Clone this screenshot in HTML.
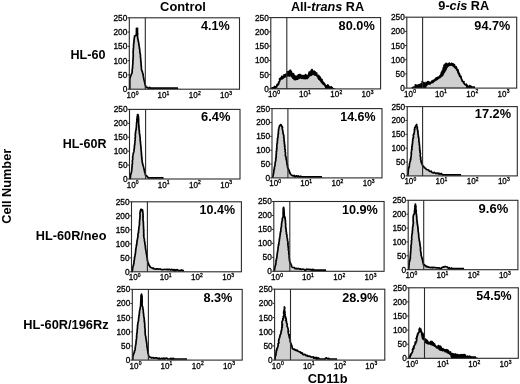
<!DOCTYPE html>
<html><head><meta charset="utf-8"><style>
html,body{margin:0;padding:0;background:#fff;}
body{width:520px;height:384px;overflow:hidden;position:relative;}
svg{position:absolute;left:0;top:0;display:block;will-change:transform;}
text{font-family:"Liberation Sans", sans-serif;fill:#000;}
.lab{font-weight:bold;}
.yt,.xt{fill:#000;stroke:#000;stroke-width:0.3px;}
</style></head><body>
<svg width="520" height="384" viewBox="0 0 520 384">
<path d="M129.8 89.2 L129.8 79 L130.09 78.01 L130.17 77.39 L130.4 76.61 L130.51 76.31 L130.88 75.77 L131.07 74.65 L131.59 73.89 L131.83 73.14 L132.08 72.8 L132.14 71.68 L132.25 71.13 L132.12 70.37 L132.25 69.42 L132.37 68.87 L132.45 68.48 L132.54 67.44 L132.68 67.07 L132.65 66.32 L132.58 65.11 L132.7 64.86 L132.89 63.99 L132.8 63.12 L133.01 62.14 L132.81 61.37 L132.94 61.11 L133 60.11 L133.02 59.24 L133.18 58.6 L133 57.84 L133.21 57.11 L133.26 56.38 L133.15 55.48 L133.32 55.18 L133.17 54.02 L133.15 53.43 L133.23 53.01 L133.17 51.87 L133.02 51.51 L133.34 50.35 L133.26 49.82 L133.46 48.83 L133.24 48.59 L133.44 47.64 L133.56 46.99 L133.59 46.07 L133.46 45.2 L133.59 44.86 L133.66 43.95 L133.78 43.45 L133.83 42.49 L133.99 42.05 L134.1 41.37 L133.92 40.5 L134.11 39.6 L134.25 38.72 L134.26 38.49 L134.37 37.71 L134.57 36.62 L134.55 36.06 L135.51 35.65 L136.17 35.3 L136.44 34.91 L136.24 34.24 L136.41 33.21 L136.54 32.36 L136.33 31.76 L136.55 31.15 L136.51 30.63 L136.51 29.83 L136.42 29.1 L136.5 28.29 L137.5 28.29 L137.44 28.94 L137.51 29.54 L137.37 30.36 L137.48 30.81 L137.5 31.73 L137.41 32.58 L137.61 33.07 L137.66 34.17 L137.61 34.53 L137.51 35.07 L137.53 36.3 L137.54 36.97 L137.81 37.62 L137.7 38.26 L137.81 39.01 L138.12 39.77 L138.17 40.61 L138.21 40.91 L138.53 41.59 L138.53 42.55 L138.79 43.26 L138.83 44.08 L138.93 44.8 L139.06 45.62 L139.18 46.25 L139.43 47.34 L139.32 48.07 L139.36 48.45 L139.72 49.1 L139.75 50.35 L139.83 50.78 L139.76 51.52 L139.99 52.47 L140.07 53.23 L140.17 53.88 L140.34 54.33 L140.47 55.24 L140.39 56.28 L140.48 56.72 L140.43 57.25 L140.65 58.14 L140.68 58.96 L140.74 59.45 L140.86 60.23 L140.71 61.19 L140.98 61.46 L141.04 62.51 L140.91 63.15 L141.16 63.61 L141.14 64.37 L141.05 65.51 L141.36 66.04 L141.36 66.59 L141.3 67.44 L141.48 68.2 L141.43 68.87 L141.47 69.69 L141.82 70.35 L141.88 70.8 L142.29 71.48 L142.41 72 L142.46 72.76 L142.84 73.45 L143.05 74.04 L143.18 75.12 L143.18 75.54 L143.31 76.4 L143.41 76.94 L143.73 78.06 L143.66 78.51 L143.94 79.47 L144.04 79.92 L144.23 80.77 L144.34 81.37 L144.49 81.73 L144.68 82.52 L144.76 83.31 L145.01 84.11 L145.23 84.63 L145.36 85.52 L145.73 86.04 L145.65 87.01 L146.72 87.3 L147.44 87.35 L148.07 88.1 L148.94 88.1 L149.75 87.49 L150.43 88.1 L151.31 88.1 L151.89 88.1 L152.83 88.1 L153.38 88.1 L154.38 88.1 L155.14 88.1 L155.71 88.1 L156.45 88.1 L157.14 88.1 L157.91 88.1 L158.54 88.1 L159.35 88.1 L160.14 88.1 L160.82 88.1 L161.43 88.1 L162.23 88.1 L162.99 88.1 L163.51 88.1 L164.36 88.1 L164.88 88.1 L165.62 88.1 L166.37 88.1 L167.24 88.1 L167.93 88.1 L168.57 88.1 L169.38 88.1 L170.13 88.1 L170.68 88.1 L171.63 88.1 L172.18 88.1 L172.83 88.1 L173.65 88.1 L174.38 88.1 L175 88.1 L175.88 88.1 L176.71 88.1 L177.24 88.1 L178 88.1 L182 89.2 Z" fill="#d0d0d0" stroke="none"/>
<path d="M129.8 89.2 L129.8 79 L130.09 78.01 L130.17 77.39 L130.4 76.61 L130.51 76.31 L130.88 75.77 L131.07 74.65 L131.59 73.89 L131.83 73.14 L132.08 72.8 L132.14 71.68 L132.25 71.13 L132.12 70.37 L132.25 69.42 L132.37 68.87 L132.45 68.48 L132.54 67.44 L132.68 67.07 L132.65 66.32 L132.58 65.11 L132.7 64.86 L132.89 63.99 L132.8 63.12 L133.01 62.14 L132.81 61.37 L132.94 61.11 L133 60.11 L133.02 59.24 L133.18 58.6 L133 57.84 L133.21 57.11 L133.26 56.38 L133.15 55.48 L133.32 55.18 L133.17 54.02 L133.15 53.43 L133.23 53.01 L133.17 51.87 L133.02 51.51 L133.34 50.35 L133.26 49.82 L133.46 48.83 L133.24 48.59 L133.44 47.64 L133.56 46.99 L133.59 46.07 L133.46 45.2 L133.59 44.86 L133.66 43.95 L133.78 43.45 L133.83 42.49 L133.99 42.05 L134.1 41.37 L133.92 40.5 L134.11 39.6 L134.25 38.72 L134.26 38.49 L134.37 37.71 L134.57 36.62 L134.55 36.06 L135.51 35.65 L136.17 35.3 L136.44 34.91 L136.24 34.24 L136.41 33.21 L136.54 32.36 L136.33 31.76 L136.55 31.15 L136.51 30.63 L136.51 29.83 L136.42 29.1 L136.5 28.29 L137.5 28.29 L137.44 28.94 L137.51 29.54 L137.37 30.36 L137.48 30.81 L137.5 31.73 L137.41 32.58 L137.61 33.07 L137.66 34.17 L137.61 34.53 L137.51 35.07 L137.53 36.3 L137.54 36.97 L137.81 37.62 L137.7 38.26 L137.81 39.01 L138.12 39.77 L138.17 40.61 L138.21 40.91 L138.53 41.59 L138.53 42.55 L138.79 43.26 L138.83 44.08 L138.93 44.8 L139.06 45.62 L139.18 46.25 L139.43 47.34 L139.32 48.07 L139.36 48.45 L139.72 49.1 L139.75 50.35 L139.83 50.78 L139.76 51.52 L139.99 52.47 L140.07 53.23 L140.17 53.88 L140.34 54.33 L140.47 55.24 L140.39 56.28 L140.48 56.72 L140.43 57.25 L140.65 58.14 L140.68 58.96 L140.74 59.45 L140.86 60.23 L140.71 61.19 L140.98 61.46 L141.04 62.51 L140.91 63.15 L141.16 63.61 L141.14 64.37 L141.05 65.51 L141.36 66.04 L141.36 66.59 L141.3 67.44 L141.48 68.2 L141.43 68.87 L141.47 69.69 L141.82 70.35 L141.88 70.8 L142.29 71.48 L142.41 72 L142.46 72.76 L142.84 73.45 L143.05 74.04 L143.18 75.12 L143.18 75.54 L143.31 76.4 L143.41 76.94 L143.73 78.06 L143.66 78.51 L143.94 79.47 L144.04 79.92 L144.23 80.77 L144.34 81.37 L144.49 81.73 L144.68 82.52 L144.76 83.31 L145.01 84.11 L145.23 84.63 L145.36 85.52 L145.73 86.04 L145.65 87.01 L146.72 87.3 L147.44 87.35 L148.07 88.1 L148.94 88.1 L149.75 87.49 L150.43 88.1 L151.31 88.1 L151.89 88.1 L152.83 88.1 L153.38 88.1 L154.38 88.1 L155.14 88.1 L155.71 88.1 L156.45 88.1 L157.14 88.1 L157.91 88.1 L158.54 88.1 L159.35 88.1 L160.14 88.1 L160.82 88.1 L161.43 88.1 L162.23 88.1 L162.99 88.1 L163.51 88.1 L164.36 88.1 L164.88 88.1 L165.62 88.1 L166.37 88.1 L167.24 88.1 L167.93 88.1 L168.57 88.1 L169.38 88.1 L170.13 88.1 L170.68 88.1 L171.63 88.1 L172.18 88.1 L172.83 88.1 L173.65 88.1 L174.38 88.1 L175 88.1 L175.88 88.1 L176.71 88.1 L177.24 88.1 L178 88.1" fill="none" stroke="#000" stroke-width="1.7" stroke-linejoin="round"/>
<rect x="129.3" y="17.8" width="110.2" height="71.4" fill="none" stroke="#2a2a2a" stroke-width="1.1"/>
<line x1="145.3" y1="17.8" x2="145.3" y2="89.2" stroke="#2a2a2a" stroke-width="1.1"/>
<line x1="127.5" y1="89.2" x2="129.3" y2="89.2" stroke="#2a2a2a" stroke-width="1"/>
<text class="yt" font-size="8.3" transform="translate(123.03 92.15) scale(1.0000 1)" x="-0.32" y="0">0</text>
<line x1="127.5" y1="74.92" x2="129.3" y2="74.92" stroke="#2a2a2a" stroke-width="1"/>
<text class="yt" font-size="8.3" transform="translate(118.43 77.87) scale(1.0000 1)" x="-0.33" y="0">50</text>
<line x1="127.5" y1="60.64" x2="129.3" y2="60.64" stroke="#2a2a2a" stroke-width="1"/>
<text class="yt" font-size="8.3" transform="translate(114.11 63.59) scale(1.0000 1)" x="-0.63" y="0">100</text>
<line x1="127.5" y1="46.36" x2="129.3" y2="46.36" stroke="#2a2a2a" stroke-width="1"/>
<text class="yt" font-size="8.3" transform="translate(114.11 49.31) scale(1.0000 1)" x="-0.63" y="0">150</text>
<line x1="127.5" y1="32.08" x2="129.3" y2="32.08" stroke="#2a2a2a" stroke-width="1"/>
<text class="yt" font-size="8.3" transform="translate(113.89 35.03) scale(1.0000 1)" x="-0.42" y="0">200</text>
<line x1="127.5" y1="17.8" x2="129.3" y2="17.8" stroke="#2a2a2a" stroke-width="1"/>
<text class="yt" font-size="8.3" transform="translate(113.89 20.75) scale(1.0000 1)" x="-0.42" y="0">250</text>
<text class="xt" font-size="8.4" transform="translate(127.1 97.7) scale(0.9600 1)" x="-0.64" y="0">10</text>
<text class="xt" font-size="5" transform="translate(135.84 94.5) scale(1.0000 1)" x="-0.2" y="0">0</text>
<text class="xt" font-size="8.4" transform="translate(158.2 97.7) scale(0.9600 1)" x="-0.64" y="0">10</text>
<text class="xt" font-size="5" transform="translate(166.94 94.5) scale(1.0000 1)" x="-0.38" y="0">1</text>
<text class="xt" font-size="8.4" transform="translate(189.4 97.7) scale(0.9600 1)" x="-0.64" y="0">10</text>
<text class="xt" font-size="5" transform="translate(198.14 94.5) scale(1.0000 1)" x="-0.25" y="0">2</text>
<text class="xt" font-size="8.4" transform="translate(220.6 97.7) scale(0.9600 1)" x="-0.64" y="0">10</text>
<text class="xt" font-size="5" transform="translate(229.34 94.5) scale(1.0000 1)" x="-0.19" y="0">3</text>
<text class="lab" font-size="12.5" transform="translate(201.1 30.4) scale(1.0116 1)" x="-0.19" y="0">4.1%</text>
<path d="M271.4 88.9 L272 87.8 L272.55 87.8 L273.76 87.8 L274.55 86.44 L275.86 87.16 L276.53 86.84 L276.68 85.75 L277 84.73 L277.52 84.2 L278.13 84.75 L278.78 83.78 L278.63 82.16 L278.77 82.64 L279.84 80.91 L279.74 79.88 L279.66 78.57 L279.56 79.77 L280.78 78.8 L280.4 78.58 L282.08 76.56 L281.72 76.4 L282.16 76.26 L282.92 76.94 L283.88 76.58 L284.01 74.85 L285.37 75.3 L286.05 74.1 L285.56 74.47 L287.28 73.98 L287.59 71.89 L288.97 71.48 L289.7 70.78 L290.12 71.21 L290.5 70.39 L290.65 70.83 L290.06 70.41 L291.2 72.63 L291.36 71.67 L291.56 73.19 L291.35 74.89 L291.97 74.09 L292.7 73.62 L292.92 73.54 L293.59 73.97 L294.27 75.76 L294.53 76.78 L295.5 76.09 L295.7 77.25 L297 76.11 L297.78 76.95 L298.34 74.95 L299.42 74.94 L299.96 74.46 L301.55 76.17 L301.92 75.47 L303.01 76.22 L303.97 75.53 L305.12 75.35 L305.69 75.39 L305.63 74.51 L306.54 76 L307.86 75.71 L308.23 74.82 L308.63 75.39 L308.79 73.97 L309.21 72.15 L309.57 72.01 L310.67 72.2 L311.62 71.42 L311.02 70.89 L312.04 70.88 L311.47 70 L312 69.49 L312.7 72.27 L312.27 71.4 L313.21 72.28 L313.39 72.18 L314.08 71.04 L315.52 72.4 L316.18 74.38 L316.69 73.09 L316.64 74.67 L317.86 75.8 L318.16 75.35 L318.58 75.36 L319.04 76.88 L319.36 76.4 L319.99 77.2 L320.54 78.3 L320.13 79.76 L320.63 79.1 L321.99 79.49 L322.14 81.17 L322.78 81.49 L322.55 83.44 L322.79 82.16 L324.32 83.51 L324.51 84.04 L325.01 84.48 L325.24 85.23 L326.87 86.66 L327.76 84.79 L327.89 85.06 L328.51 85.75 L329.28 86.97 L329.61 87.8 L330.25 87.8 L331.09 86.64 L331.83 87.8 L333 87.8 L336 88.9 Z" fill="#000" stroke="none"/>
<path d="M275.5 88.6 L276 88.33 L276.93 87.22 L277.36 86.48 L277.61 86.03 L277.72 85.47 L278.01 84.73 L278.33 83.77 L278.77 83.68 L278.95 82.52 L279.45 82.42 L279.73 81.3 L280.19 80.34 L280.89 80.14 L281.36 79.62 L282.17 79.79 L282.87 79.22 L283.68 78.66 L284.27 78.03 L284.7 77.75 L285.57 77.54 L286.26 77.27 L287.15 76.64 L288.12 76.56 L288.65 76.56 L289.51 76.9 L290.34 76.53 L291.19 76.49 L291.47 77.61 L291.86 77.99 L292.32 78.73 L293.11 79.26 L293.65 79.65 L294.08 80.48 L294.78 80.24 L295.64 80.51 L296.24 80.16 L296.82 80.06 L297.81 80.02 L298.63 79.18 L299.2 79.21 L299.81 78.77 L300.67 78.56 L301.42 79.15 L302.25 78.81 L303.16 79.38 L303.83 79.11 L304.82 79.46 L305.73 79.44 L306.31 79.08 L307.14 79.46 L308.18 78.87 L308.37 78.25 L308.89 77.76 L309.54 76.9 L309.8 76.34 L310.7 76.15 L311.68 75.95 L312.26 75.59 L313.07 74.84 L313.91 75.62 L314.65 75.84 L315.21 75.72 L315.84 76.11 L316.22 76.28 L316.68 76.99 L317.14 77.53 L317.4 78.24 L317.84 79.04 L318.31 80.01 L319.05 79.99 L319.4 80.72 L319.95 81.1 L320.64 82.39 L320.99 82.59 L321.33 82.88 L321.94 83.61 L322.63 84.03 L322.81 85.16 L323.51 85.02 L324.02 85.42 L324.51 86.78 L325 87 L325 88.6 Z" fill="#d0d0d0" stroke="none"/>
<path d="M271.4 88.9 L272 87.8 L272.55 87.8 L273.76 87.8 L274.55 86.44 L275.86 87.16 L276.53 86.84 L276.68 85.75 L277 84.73 L277.52 84.2 L278.13 84.75 L278.78 83.78 L278.63 82.16 L278.77 82.64 L279.84 80.91 L279.74 79.88 L279.66 78.57 L279.56 79.77 L280.78 78.8 L280.4 78.58 L282.08 76.56 L281.72 76.4 L282.16 76.26 L282.92 76.94 L283.88 76.58 L284.01 74.85 L285.37 75.3 L286.05 74.1 L285.56 74.47 L287.28 73.98 L287.59 71.89 L288.97 71.48 L289.7 70.78 L290.12 71.21 L290.5 70.39 L290.65 70.83 L290.06 70.41 L291.2 72.63 L291.36 71.67 L291.56 73.19 L291.35 74.89 L291.97 74.09 L292.7 73.62 L292.92 73.54 L293.59 73.97 L294.27 75.76 L294.53 76.78 L295.5 76.09 L295.7 77.25 L297 76.11 L297.78 76.95 L298.34 74.95 L299.42 74.94 L299.96 74.46 L301.55 76.17 L301.92 75.47 L303.01 76.22 L303.97 75.53 L305.12 75.35 L305.69 75.39 L305.63 74.51 L306.54 76 L307.86 75.71 L308.23 74.82 L308.63 75.39 L308.79 73.97 L309.21 72.15 L309.57 72.01 L310.67 72.2 L311.62 71.42 L311.02 70.89 L312.04 70.88 L311.47 70 L312 69.49 L312.7 72.27 L312.27 71.4 L313.21 72.28 L313.39 72.18 L314.08 71.04 L315.52 72.4 L316.18 74.38 L316.69 73.09 L316.64 74.67 L317.86 75.8 L318.16 75.35 L318.58 75.36 L319.04 76.88 L319.36 76.4 L319.99 77.2 L320.54 78.3 L320.13 79.76 L320.63 79.1 L321.99 79.49 L322.14 81.17 L322.78 81.49 L322.55 83.44 L322.79 82.16 L324.32 83.51 L324.51 84.04 L325.01 84.48 L325.24 85.23 L326.87 86.66 L327.76 84.79 L327.89 85.06 L328.51 85.75 L329.28 86.97 L329.61 87.8 L330.25 87.8 L331.09 86.64 L331.83 87.8 L333 87.8" fill="none" stroke="#000" stroke-width="1.7" stroke-linejoin="round"/>
<rect x="270.8" y="17.6" width="109.8" height="71.3" fill="none" stroke="#2a2a2a" stroke-width="1.1"/>
<line x1="286.8" y1="17.6" x2="286.8" y2="88.9" stroke="#2a2a2a" stroke-width="1.1"/>
<line x1="269" y1="88.9" x2="270.8" y2="88.9" stroke="#2a2a2a" stroke-width="1"/>
<text class="yt" font-size="8.3" transform="translate(264.53 91.85) scale(1.0000 1)" x="-0.32" y="0">0</text>
<line x1="269" y1="74.64" x2="270.8" y2="74.64" stroke="#2a2a2a" stroke-width="1"/>
<text class="yt" font-size="8.3" transform="translate(259.93 77.59) scale(1.0000 1)" x="-0.33" y="0">50</text>
<line x1="269" y1="60.38" x2="270.8" y2="60.38" stroke="#2a2a2a" stroke-width="1"/>
<text class="yt" font-size="8.3" transform="translate(255.61 63.33) scale(1.0000 1)" x="-0.63" y="0">100</text>
<line x1="269" y1="46.12" x2="270.8" y2="46.12" stroke="#2a2a2a" stroke-width="1"/>
<text class="yt" font-size="8.3" transform="translate(255.61 49.07) scale(1.0000 1)" x="-0.63" y="0">150</text>
<line x1="269" y1="31.86" x2="270.8" y2="31.86" stroke="#2a2a2a" stroke-width="1"/>
<text class="yt" font-size="8.3" transform="translate(255.39 34.81) scale(1.0000 1)" x="-0.42" y="0">200</text>
<line x1="269" y1="17.6" x2="270.8" y2="17.6" stroke="#2a2a2a" stroke-width="1"/>
<text class="yt" font-size="8.3" transform="translate(255.39 20.55) scale(1.0000 1)" x="-0.42" y="0">250</text>
<text class="xt" font-size="8.4" transform="translate(268.6 97.4) scale(0.9600 1)" x="-0.64" y="0">10</text>
<text class="xt" font-size="5" transform="translate(277.34 94.2) scale(1.0000 1)" x="-0.2" y="0">0</text>
<text class="xt" font-size="8.4" transform="translate(299.7 97.4) scale(0.9600 1)" x="-0.64" y="0">10</text>
<text class="xt" font-size="5" transform="translate(308.44 94.2) scale(1.0000 1)" x="-0.38" y="0">1</text>
<text class="xt" font-size="8.4" transform="translate(330.9 97.4) scale(0.9600 1)" x="-0.64" y="0">10</text>
<text class="xt" font-size="5" transform="translate(339.64 94.2) scale(1.0000 1)" x="-0.25" y="0">2</text>
<text class="xt" font-size="8.4" transform="translate(362.1 97.4) scale(0.9600 1)" x="-0.64" y="0">10</text>
<text class="xt" font-size="5" transform="translate(370.84 94.2) scale(1.0000 1)" x="-0.19" y="0">3</text>
<text class="lab" font-size="12.5" transform="translate(339 30.2) scale(1.0198 1)" x="-0.4" y="0">80.0%</text>
<path d="M411.7 88.1 L414 87 L414.84 87 L415.48 87 L415.36 84.93 L416.28 85.64 L416.86 85.36 L417.31 85.37 L418.5 85.11 L418.77 84.83 L419.51 84.75 L420.95 84.07 L421.65 84.23 L422.32 82.49 L422.12 81.53 L422.64 82.36 L423.13 82.53 L423.87 82.48 L424.7 84.26 L426.1 83.14 L426.05 82.34 L426.96 83.76 L427.85 81.62 L429.22 81.96 L430.05 83.94 L430.24 82.77 L431.37 82.19 L431.82 81.12 L433.05 81.72 L433.21 80.35 L434.08 80.54 L435.13 79.43 L435.27 79.23 L436.48 77.8 L437.11 79.14 L436.91 78.17 L438.15 77.04 L438.72 77.07 L439.83 76.78 L439.86 75.8 L440.2 75.93 L441.35 73.54 L441 74.64 L441.55 72.15 L442.21 73.21 L442.14 71.67 L442.45 71.59 L442.49 70.27 L443.14 70.38 L443.31 67.79 L443.98 67.53 L443.85 67.06 L444.36 66.44 L444 65.21 L444.21 66.28 L445.46 63.91 L445.88 64.26 L446.22 63.37 L446.82 64.12 L448.34 63.85 L449.27 63.1 L449.36 64.22 L450.06 64.84 L451.45 63.35 L452.34 63.71 L453.08 64.08 L453.54 64.1 L454.49 64.92 L454.23 66.31 L455.21 66.49 L455.97 66.98 L456.09 66.72 L456.76 68.36 L456.4 68.39 L456.75 68.91 L457.42 70.03 L458.05 69.79 L457.83 71.79 L458.25 71.06 L458.37 73.57 L459.39 73.45 L459.02 74.79 L459.75 74.65 L459.64 76.42 L459.94 75.8 L460.94 76.5 L461.23 77.6 L461.12 78.58 L461.19 78.31 L462.15 80.11 L462.02 80.81 L462.4 81.08 L463.55 82.15 L463.98 81.57 L463.7 82.71 L464.3 83.6 L464.95 84.61 L465.99 84.41 L466.31 84.16 L467.32 85.67 L467.85 87 L468.73 87 L469.76 85.56 L470.84 87 L471.11 86.31 L471.51 87 L472.43 87 L473.88 87 L474.15 87 L475 87 L475 88.1 Z" fill="#000" stroke="none"/>
<path d="M426 87.8 L427 85.8 L427.68 85.2 L428.56 84.81 L429.26 84.72 L429.82 84.51 L430.56 84.07 L431.33 83.42 L432.22 83.64 L432.85 82.78 L433.65 82.96 L434.23 82.12 L434.99 81.44 L435.54 81.23 L435.86 80.69 L436.59 80.84 L437.21 80.23 L438.06 79.65 L438.69 78.98 L439.16 78.68 L440.07 78.44 L440.53 78.07 L441.18 77.34 L441.92 77.16 L442.3 76.56 L443.01 76.3 L443.49 75.13 L443.99 74.29 L444.17 74.11 L444.46 73.19 L444.82 72.63 L445.44 71.93 L445.82 71.08 L446.08 70.68 L446.37 69.93 L446.8 69.69 L446.99 68.83 L447.16 68.23 L447.73 67.83 L448.13 66.63 L448.7 66.68 L449.31 66.25 L450.12 65.72 L450.82 65.98 L451.52 65.81 L452.29 66.55 L452.83 66.46 L453.52 67.31 L454.13 67.79 L454.41 67.93 L454.94 68.81 L455.61 68.84 L455.73 69.51 L456.18 70.33 L456.75 70.77 L456.94 71.51 L457.52 72.24 L458.18 72.95 L458.34 73.59 L458.74 73.84 L459.16 75.12 L459.48 75.84 L459.62 76.22 L459.84 77.11 L460.16 77.35 L460.55 78.13 L460.94 78.74 L461.13 79.45 L461.51 80.24 L461.81 81.27 L462.38 81.32 L462.57 82.1 L462.95 82.55 L463.64 83.94 L463.99 84.22 L464.33 84.61 L465.19 85.37 L466 86.2 L466 87.8 Z" fill="#d0d0d0" stroke="none"/>
<path d="M411.7 88.1 L414 87 L414.84 87 L415.48 87 L415.36 84.93 L416.28 85.64 L416.86 85.36 L417.31 85.37 L418.5 85.11 L418.77 84.83 L419.51 84.75 L420.95 84.07 L421.65 84.23 L422.32 82.49 L422.12 81.53 L422.64 82.36 L423.13 82.53 L423.87 82.48 L424.7 84.26 L426.1 83.14 L426.05 82.34 L426.96 83.76 L427.85 81.62 L429.22 81.96 L430.05 83.94 L430.24 82.77 L431.37 82.19 L431.82 81.12 L433.05 81.72 L433.21 80.35 L434.08 80.54 L435.13 79.43 L435.27 79.23 L436.48 77.8 L437.11 79.14 L436.91 78.17 L438.15 77.04 L438.72 77.07 L439.83 76.78 L439.86 75.8 L440.2 75.93 L441.35 73.54 L441 74.64 L441.55 72.15 L442.21 73.21 L442.14 71.67 L442.45 71.59 L442.49 70.27 L443.14 70.38 L443.31 67.79 L443.98 67.53 L443.85 67.06 L444.36 66.44 L444 65.21 L444.21 66.28 L445.46 63.91 L445.88 64.26 L446.22 63.37 L446.82 64.12 L448.34 63.85 L449.27 63.1 L449.36 64.22 L450.06 64.84 L451.45 63.35 L452.34 63.71 L453.08 64.08 L453.54 64.1 L454.49 64.92 L454.23 66.31 L455.21 66.49 L455.97 66.98 L456.09 66.72 L456.76 68.36 L456.4 68.39 L456.75 68.91 L457.42 70.03 L458.05 69.79 L457.83 71.79 L458.25 71.06 L458.37 73.57 L459.39 73.45 L459.02 74.79 L459.75 74.65 L459.64 76.42 L459.94 75.8 L460.94 76.5 L461.23 77.6 L461.12 78.58 L461.19 78.31 L462.15 80.11 L462.02 80.81 L462.4 81.08 L463.55 82.15 L463.98 81.57 L463.7 82.71 L464.3 83.6 L464.95 84.61 L465.99 84.41 L466.31 84.16 L467.32 85.67 L467.85 87 L468.73 87 L469.76 85.56 L470.84 87 L471.11 86.31 L471.51 87 L472.43 87 L473.88 87 L474.15 87 L475 87" fill="none" stroke="#000" stroke-width="1.7" stroke-linejoin="round"/>
<rect x="406.8" y="17.2" width="109.9" height="70.9" fill="none" stroke="#2a2a2a" stroke-width="1.1"/>
<line x1="422.6" y1="17.2" x2="422.6" y2="88.1" stroke="#2a2a2a" stroke-width="1.1"/>
<line x1="405" y1="88.1" x2="406.8" y2="88.1" stroke="#2a2a2a" stroke-width="1"/>
<text class="yt" font-size="8.3" transform="translate(400.53 91.05) scale(1.0000 1)" x="-0.32" y="0">0</text>
<line x1="405" y1="73.92" x2="406.8" y2="73.92" stroke="#2a2a2a" stroke-width="1"/>
<text class="yt" font-size="8.3" transform="translate(395.93 76.87) scale(1.0000 1)" x="-0.33" y="0">50</text>
<line x1="405" y1="59.74" x2="406.8" y2="59.74" stroke="#2a2a2a" stroke-width="1"/>
<text class="yt" font-size="8.3" transform="translate(391.61 62.69) scale(1.0000 1)" x="-0.63" y="0">100</text>
<line x1="405" y1="45.56" x2="406.8" y2="45.56" stroke="#2a2a2a" stroke-width="1"/>
<text class="yt" font-size="8.3" transform="translate(391.61 48.51) scale(1.0000 1)" x="-0.63" y="0">150</text>
<line x1="405" y1="31.38" x2="406.8" y2="31.38" stroke="#2a2a2a" stroke-width="1"/>
<text class="yt" font-size="8.3" transform="translate(391.39 34.33) scale(1.0000 1)" x="-0.42" y="0">200</text>
<line x1="405" y1="17.2" x2="406.8" y2="17.2" stroke="#2a2a2a" stroke-width="1"/>
<text class="yt" font-size="8.3" transform="translate(391.39 20.15) scale(1.0000 1)" x="-0.42" y="0">250</text>
<text class="xt" font-size="8.4" transform="translate(404.6 96.6) scale(0.9600 1)" x="-0.64" y="0">10</text>
<text class="xt" font-size="5" transform="translate(413.34 93.4) scale(1.0000 1)" x="-0.2" y="0">0</text>
<text class="xt" font-size="8.4" transform="translate(435.7 96.6) scale(0.9600 1)" x="-0.64" y="0">10</text>
<text class="xt" font-size="5" transform="translate(444.44 93.4) scale(1.0000 1)" x="-0.38" y="0">1</text>
<text class="xt" font-size="8.4" transform="translate(466.9 96.6) scale(0.9600 1)" x="-0.64" y="0">10</text>
<text class="xt" font-size="5" transform="translate(475.64 93.4) scale(1.0000 1)" x="-0.25" y="0">2</text>
<text class="xt" font-size="8.4" transform="translate(498.1 96.6) scale(0.9600 1)" x="-0.64" y="0">10</text>
<text class="xt" font-size="5" transform="translate(506.84 93.4) scale(1.0000 1)" x="-0.19" y="0">3</text>
<text class="lab" font-size="12.5" transform="translate(474.8 29.7) scale(1.0123 1)" x="-0.44" y="0">94.7%</text>
<path d="M130.1 179.1 L130.2 177.9 L130.39 177.9 L130.35 176.8 L130.48 175.85 L130.58 175.15 L130.75 174.41 L131.08 173.73 L131.15 173.08 L131.47 171.91 L131.49 171.7 L131.71 170.68 L131.74 170.27 L131.73 169.43 L132.01 168.34 L131.91 167.7 L132.03 167.01 L132.19 166.62 L132.07 165.87 L132.05 164.67 L132.29 164.36 L132.39 163.75 L132.45 162.59 L132.47 162.25 L132.33 161.3 L132.4 160.39 L132.54 160 L132.74 158.98 L132.65 158.8 L132.78 157.82 L132.67 157.18 L132.73 156.49 L132.89 155.63 L132.99 154.94 L133.11 154.4 L133.27 153.21 L133.58 152.56 L133.89 151.65 L133.96 150.73 L134.06 150.15 L134.13 149.69 L134.08 149.09 L134.36 148.25 L134.38 147.38 L134.41 146.54 L134.43 145.75 L134.52 145.04 L134.78 144.58 L134.78 143.38 L134.74 142.96 L134.94 142.15 L134.99 141.71 L134.96 140.66 L135.18 139.89 L135.21 139.24 L135.04 138.58 L135.09 138.07 L135.36 137.22 L135.42 136.33 L135.32 135.61 L135.24 135.29 L135.29 134.66 L135.48 133.82 L135.36 133.24 L135.71 131.96 L135.64 131.18 L135.86 130.35 L136.07 129.8 L136.16 128.85 L136.22 128.26 L136.29 127.52 L136.46 127.06 L136.49 126.05 L136.36 125.22 L136.42 124.99 L136.53 124.22 L136.58 123.32 L136.65 122.38 L136.86 121.82 L136.98 120.84 L136.84 119.99 L136.89 119.79 L137.06 118.74 L137.05 118.16 L137.28 116.97 L137.21 116.15 L137.57 115.66 L137.52 114.54 L138.14 115.01 L138.33 115.56 L138.27 116.38 L138.51 117.39 L138.57 118.03 L138.54 119.04 L138.66 119.63 L138.48 120.62 L138.72 121.15 L138.56 121.61 L138.63 122.83 L138.63 123.25 L138.72 123.84 L138.64 124.73 L138.95 125.65 L138.81 126.31 L139.03 126.91 L138.94 127.39 L139.1 128.4 L139.01 128.78 L139.06 130 L139.38 130.61 L139.37 131.52 L139.32 132.21 L139.48 133.22 L139.48 133.91 L139.55 134.47 L139.86 134.85 L139.82 135.5 L139.9 136.49 L140.12 137.19 L140.18 138.04 L140.24 138.51 L140.1 139.38 L140.18 140.08 L140.26 140.8 L140.5 141.74 L140.39 142 L140.52 143.22 L140.53 143.65 L140.62 144.14 L140.73 145.02 L140.77 146.01 L140.89 146.45 L140.94 147.36 L141.04 147.77 L140.95 148.9 L141.1 149.54 L141.15 150.34 L141.27 151.2 L141.35 151.98 L141.36 152.27 L141.36 153.42 L141.55 154.01 L141.42 154.46 L141.65 155.35 L141.57 156.42 L141.65 157.12 L141.84 157.87 L141.95 158.15 L141.85 159.28 L141.98 159.8 L142.14 160.6 L142.2 161.28 L142.13 162.13 L142.31 162.93 L142.73 163.39 L142.71 164.65 L142.99 165.22 L143.24 165.78 L143.38 166.46 L143.72 167.59 L143.86 167.93 L143.88 168.62 L144.19 169.86 L144.38 170.49 L144.43 171 L144.5 171.52 L144.88 172.88 L145.2 173.35 L145.29 174.43 L145.43 175.14 L146.08 175.46 L146.57 175.8 L147.04 176.38 L147.85 177.19 L148.32 177.9 L149.13 177.9 L150.13 177.9 L150.83 177.9 L151.47 177.9 L152.07 177.9 L152.89 177.9 L153.47 177.9 L154.31 177.9 L154.89 177.9 L155.71 177.9 L156.47 177.9 L157.19 177.9 L157.78 177.9 L158.59 177.9 L159.39 177.9 L160.02 177.9 L160.63 177.9 L161.4 177.9 L162.05 177.9 L162.91 177.9 L163.5 177.9 L168 179.1 Z" fill="#d0d0d0" stroke="none"/>
<path d="M130.1 179.1 L130.2 177.9 L130.39 177.9 L130.35 176.8 L130.48 175.85 L130.58 175.15 L130.75 174.41 L131.08 173.73 L131.15 173.08 L131.47 171.91 L131.49 171.7 L131.71 170.68 L131.74 170.27 L131.73 169.43 L132.01 168.34 L131.91 167.7 L132.03 167.01 L132.19 166.62 L132.07 165.87 L132.05 164.67 L132.29 164.36 L132.39 163.75 L132.45 162.59 L132.47 162.25 L132.33 161.3 L132.4 160.39 L132.54 160 L132.74 158.98 L132.65 158.8 L132.78 157.82 L132.67 157.18 L132.73 156.49 L132.89 155.63 L132.99 154.94 L133.11 154.4 L133.27 153.21 L133.58 152.56 L133.89 151.65 L133.96 150.73 L134.06 150.15 L134.13 149.69 L134.08 149.09 L134.36 148.25 L134.38 147.38 L134.41 146.54 L134.43 145.75 L134.52 145.04 L134.78 144.58 L134.78 143.38 L134.74 142.96 L134.94 142.15 L134.99 141.71 L134.96 140.66 L135.18 139.89 L135.21 139.24 L135.04 138.58 L135.09 138.07 L135.36 137.22 L135.42 136.33 L135.32 135.61 L135.24 135.29 L135.29 134.66 L135.48 133.82 L135.36 133.24 L135.71 131.96 L135.64 131.18 L135.86 130.35 L136.07 129.8 L136.16 128.85 L136.22 128.26 L136.29 127.52 L136.46 127.06 L136.49 126.05 L136.36 125.22 L136.42 124.99 L136.53 124.22 L136.58 123.32 L136.65 122.38 L136.86 121.82 L136.98 120.84 L136.84 119.99 L136.89 119.79 L137.06 118.74 L137.05 118.16 L137.28 116.97 L137.21 116.15 L137.57 115.66 L137.52 114.54 L138.14 115.01 L138.33 115.56 L138.27 116.38 L138.51 117.39 L138.57 118.03 L138.54 119.04 L138.66 119.63 L138.48 120.62 L138.72 121.15 L138.56 121.61 L138.63 122.83 L138.63 123.25 L138.72 123.84 L138.64 124.73 L138.95 125.65 L138.81 126.31 L139.03 126.91 L138.94 127.39 L139.1 128.4 L139.01 128.78 L139.06 130 L139.38 130.61 L139.37 131.52 L139.32 132.21 L139.48 133.22 L139.48 133.91 L139.55 134.47 L139.86 134.85 L139.82 135.5 L139.9 136.49 L140.12 137.19 L140.18 138.04 L140.24 138.51 L140.1 139.38 L140.18 140.08 L140.26 140.8 L140.5 141.74 L140.39 142 L140.52 143.22 L140.53 143.65 L140.62 144.14 L140.73 145.02 L140.77 146.01 L140.89 146.45 L140.94 147.36 L141.04 147.77 L140.95 148.9 L141.1 149.54 L141.15 150.34 L141.27 151.2 L141.35 151.98 L141.36 152.27 L141.36 153.42 L141.55 154.01 L141.42 154.46 L141.65 155.35 L141.57 156.42 L141.65 157.12 L141.84 157.87 L141.95 158.15 L141.85 159.28 L141.98 159.8 L142.14 160.6 L142.2 161.28 L142.13 162.13 L142.31 162.93 L142.73 163.39 L142.71 164.65 L142.99 165.22 L143.24 165.78 L143.38 166.46 L143.72 167.59 L143.86 167.93 L143.88 168.62 L144.19 169.86 L144.38 170.49 L144.43 171 L144.5 171.52 L144.88 172.88 L145.2 173.35 L145.29 174.43 L145.43 175.14 L146.08 175.46 L146.57 175.8 L147.04 176.38 L147.85 177.19 L148.32 177.9 L149.13 177.9 L150.13 177.9 L150.83 177.9 L151.47 177.9 L152.07 177.9 L152.89 177.9 L153.47 177.9 L154.31 177.9 L154.89 177.9 L155.71 177.9 L156.47 177.9 L157.19 177.9 L157.78 177.9 L158.59 177.9 L159.39 177.9 L160.02 177.9 L160.63 177.9 L161.4 177.9 L162.05 177.9 L162.91 177.9 L163.5 177.9" fill="none" stroke="#000" stroke-width="1.7" stroke-linejoin="round"/>
<rect x="129.5" y="109.4" width="110.5" height="69.6" fill="none" stroke="#2a2a2a" stroke-width="1.1"/>
<line x1="145.6" y1="109.4" x2="145.6" y2="179" stroke="#2a2a2a" stroke-width="1.1"/>
<line x1="127.7" y1="179" x2="129.5" y2="179" stroke="#2a2a2a" stroke-width="1"/>
<text class="yt" font-size="8.3" transform="translate(123.23 181.95) scale(1.0000 1)" x="-0.32" y="0">0</text>
<line x1="127.7" y1="165.08" x2="129.5" y2="165.08" stroke="#2a2a2a" stroke-width="1"/>
<text class="yt" font-size="8.3" transform="translate(118.63 168.03) scale(1.0000 1)" x="-0.33" y="0">50</text>
<line x1="127.7" y1="151.16" x2="129.5" y2="151.16" stroke="#2a2a2a" stroke-width="1"/>
<text class="yt" font-size="8.3" transform="translate(114.31 154.11) scale(1.0000 1)" x="-0.63" y="0">100</text>
<line x1="127.7" y1="137.24" x2="129.5" y2="137.24" stroke="#2a2a2a" stroke-width="1"/>
<text class="yt" font-size="8.3" transform="translate(114.31 140.19) scale(1.0000 1)" x="-0.63" y="0">150</text>
<line x1="127.7" y1="123.32" x2="129.5" y2="123.32" stroke="#2a2a2a" stroke-width="1"/>
<text class="yt" font-size="8.3" transform="translate(114.09 126.27) scale(1.0000 1)" x="-0.42" y="0">200</text>
<line x1="127.7" y1="109.4" x2="129.5" y2="109.4" stroke="#2a2a2a" stroke-width="1"/>
<text class="yt" font-size="8.3" transform="translate(114.09 112.35) scale(1.0000 1)" x="-0.42" y="0">250</text>
<text class="xt" font-size="8.4" transform="translate(127.3 187.5) scale(0.9600 1)" x="-0.64" y="0">10</text>
<text class="xt" font-size="5" transform="translate(136.04 184.3) scale(1.0000 1)" x="-0.2" y="0">0</text>
<text class="xt" font-size="8.4" transform="translate(158.4 187.5) scale(0.9600 1)" x="-0.64" y="0">10</text>
<text class="xt" font-size="5" transform="translate(167.14 184.3) scale(1.0000 1)" x="-0.38" y="0">1</text>
<text class="xt" font-size="8.4" transform="translate(189.6 187.5) scale(0.9600 1)" x="-0.64" y="0">10</text>
<text class="xt" font-size="5" transform="translate(198.34 184.3) scale(1.0000 1)" x="-0.25" y="0">2</text>
<text class="xt" font-size="8.4" transform="translate(220.8 187.5) scale(0.9600 1)" x="-0.64" y="0">10</text>
<text class="xt" font-size="5" transform="translate(229.54 184.3) scale(1.0000 1)" x="-0.19" y="0">3</text>
<text class="lab" font-size="12.5" transform="translate(201.5 121.1) scale(1.0325 1)" x="-0.46" y="0">6.4%</text>
<path d="M272.6 177.9 L273.9 171.7 L273.83 170.83 L273.89 169.92 L274.31 169.18 L274.48 168.95 L274.21 168.34 L274.55 166.76 L274.62 166.36 L274.82 165.83 L275.09 165.29 L275.1 164.54 L275.03 163.2 L275.17 162.59 L275.34 162.53 L275.45 161.26 L275.73 160.75 L275.8 160.1 L275.89 159.43 L275.6 158.94 L276.09 157.8 L276.19 157.26 L276.28 156.17 L275.95 156.05 L276.34 154.59 L276.08 154.5 L276.35 153.29 L276.45 153.04 L276.2 151.62 L276.57 151.46 L276.57 150.81 L276.75 150.06 L276.47 148.88 L276.87 148.72 L276.95 148.19 L276.9 146.85 L276.72 146.39 L276.79 145.79 L276.97 144.88 L276.91 144.74 L277.1 143.45 L277.39 142.8 L277.35 142.19 L277.27 141.76 L277.39 140.75 L277.61 139.72 L277.41 138.75 L277.74 138.33 L277.96 137.19 L277.87 137.06 L278.03 136.31 L278.05 135.76 L278 134.65 L278.37 133.81 L278.44 132.93 L278.24 132.86 L278.5 131.58 L278.42 131.26 L278.59 130.05 L278.52 130.02 L278.61 129.32 L278.93 128.22 L279.08 127.3 L279.33 126.58 L279.66 125.55 L280.07 125.51 L280.66 124.58 L281.31 125 L281.72 126.58 L282.26 126.7 L282.56 127.72 L282.24 128.25 L282.42 129.74 L282.79 130.47 L282.76 131.19 L282.82 131.05 L282.81 132.03 L283.04 132.58 L283.17 133.25 L283.13 134.1 L283.58 134.78 L283.83 135.74 L283.74 137.37 L283.96 137.64 L283.95 138.2 L284.08 138.77 L284.1 140.24 L283.94 140.61 L284.22 141.43 L284.48 142.36 L284.39 142.81 L284.32 143.67 L284.48 144.27 L284.81 144.85 L284.46 146.29 L284.97 146.3 L284.9 147.15 L284.76 148.18 L284.93 149.31 L285.16 149.22 L285.34 149.96 L285.06 151.33 L285.34 152.17 L285.38 152.19 L285.53 152.9 L285.43 153.77 L285.39 154.39 L285.38 156.01 L285.86 156.22 L285.85 156.62 L286.03 157.31 L286.17 158.68 L286.07 158.98 L286.36 159.53 L286.53 160.28 L286.68 161.51 L286.7 161.56 L286.95 162.59 L286.86 163.84 L286.9 164.19 L287.04 164.35 L287.62 165.02 L287.32 165.95 L287.6 167.06 L287.72 167.86 L288.06 168.33 L288.19 168.53 L288.78 169.82 L288.94 169.98 L289.22 170.44 L289.17 171.79 L289.63 171.91 L289.89 173.27 L290.27 173.21 L290.54 174.12 L290.85 174.63 L291.98 175.36 L292.55 175.61 L293.52 175.89 L294.1 175.31 L294.97 176.8 L295.75 176.07 L296.38 175.88 L297.28 176.12 L297.69 176.8 L298.57 175.98 L299.24 176.8 L299.98 176.8 L300.88 176.15 L301.25 176.8 L302.08 176.8 L302.76 176.8 L303.41 176.8 L304.19 176.8 L304.95 176.8 L305.53 176.8 L306.28 176.8 L307.35 176.8 L307.82 176.8 L308.68 176.8 L309.49 176.8 L310.01 176.8 L310.59 176.8 L311.66 176.8 L312.24 176.8 L313.01 176.8 L313.28 176.8 L314.05 176.8 L315.19 176.8 L315.48 176.8 L316.43 176.8 L316.87 176.8 L317.55 176.8 L318.71 176.8 L319.01 176.8 L319.89 176.8 L320.58 176.8 L321.08 176.8 L322 176.8 L326 177.9 Z" fill="#d0d0d0" stroke="none"/>
<path d="M272.6 177.9 L273.9 171.7 L273.83 170.83 L273.89 169.92 L274.31 169.18 L274.48 168.95 L274.21 168.34 L274.55 166.76 L274.62 166.36 L274.82 165.83 L275.09 165.29 L275.1 164.54 L275.03 163.2 L275.17 162.59 L275.34 162.53 L275.45 161.26 L275.73 160.75 L275.8 160.1 L275.89 159.43 L275.6 158.94 L276.09 157.8 L276.19 157.26 L276.28 156.17 L275.95 156.05 L276.34 154.59 L276.08 154.5 L276.35 153.29 L276.45 153.04 L276.2 151.62 L276.57 151.46 L276.57 150.81 L276.75 150.06 L276.47 148.88 L276.87 148.72 L276.95 148.19 L276.9 146.85 L276.72 146.39 L276.79 145.79 L276.97 144.88 L276.91 144.74 L277.1 143.45 L277.39 142.8 L277.35 142.19 L277.27 141.76 L277.39 140.75 L277.61 139.72 L277.41 138.75 L277.74 138.33 L277.96 137.19 L277.87 137.06 L278.03 136.31 L278.05 135.76 L278 134.65 L278.37 133.81 L278.44 132.93 L278.24 132.86 L278.5 131.58 L278.42 131.26 L278.59 130.05 L278.52 130.02 L278.61 129.32 L278.93 128.22 L279.08 127.3 L279.33 126.58 L279.66 125.55 L280.07 125.51 L280.66 124.58 L281.31 125 L281.72 126.58 L282.26 126.7 L282.56 127.72 L282.24 128.25 L282.42 129.74 L282.79 130.47 L282.76 131.19 L282.82 131.05 L282.81 132.03 L283.04 132.58 L283.17 133.25 L283.13 134.1 L283.58 134.78 L283.83 135.74 L283.74 137.37 L283.96 137.64 L283.95 138.2 L284.08 138.77 L284.1 140.24 L283.94 140.61 L284.22 141.43 L284.48 142.36 L284.39 142.81 L284.32 143.67 L284.48 144.27 L284.81 144.85 L284.46 146.29 L284.97 146.3 L284.9 147.15 L284.76 148.18 L284.93 149.31 L285.16 149.22 L285.34 149.96 L285.06 151.33 L285.34 152.17 L285.38 152.19 L285.53 152.9 L285.43 153.77 L285.39 154.39 L285.38 156.01 L285.86 156.22 L285.85 156.62 L286.03 157.31 L286.17 158.68 L286.07 158.98 L286.36 159.53 L286.53 160.28 L286.68 161.51 L286.7 161.56 L286.95 162.59 L286.86 163.84 L286.9 164.19 L287.04 164.35 L287.62 165.02 L287.32 165.95 L287.6 167.06 L287.72 167.86 L288.06 168.33 L288.19 168.53 L288.78 169.82 L288.94 169.98 L289.22 170.44 L289.17 171.79 L289.63 171.91 L289.89 173.27 L290.27 173.21 L290.54 174.12 L290.85 174.63 L291.98 175.36 L292.55 175.61 L293.52 175.89 L294.1 175.31 L294.97 176.8 L295.75 176.07 L296.38 175.88 L297.28 176.12 L297.69 176.8 L298.57 175.98 L299.24 176.8 L299.98 176.8 L300.88 176.15 L301.25 176.8 L302.08 176.8 L302.76 176.8 L303.41 176.8 L304.19 176.8 L304.95 176.8 L305.53 176.8 L306.28 176.8 L307.35 176.8 L307.82 176.8 L308.68 176.8 L309.49 176.8 L310.01 176.8 L310.59 176.8 L311.66 176.8 L312.24 176.8 L313.01 176.8 L313.28 176.8 L314.05 176.8 L315.19 176.8 L315.48 176.8 L316.43 176.8 L316.87 176.8 L317.55 176.8 L318.71 176.8 L319.01 176.8 L319.89 176.8 L320.58 176.8 L321.08 176.8 L322 176.8" fill="none" stroke="#000" stroke-width="1.7" stroke-linejoin="round"/>
<rect x="272" y="108.6" width="110" height="69.3" fill="none" stroke="#2a2a2a" stroke-width="1.1"/>
<line x1="287.9" y1="108.6" x2="287.9" y2="177.9" stroke="#2a2a2a" stroke-width="1.1"/>
<line x1="270.2" y1="177.9" x2="272" y2="177.9" stroke="#2a2a2a" stroke-width="1"/>
<text class="yt" font-size="8.3" transform="translate(265.73 180.85) scale(1.0000 1)" x="-0.32" y="0">0</text>
<line x1="270.2" y1="164.04" x2="272" y2="164.04" stroke="#2a2a2a" stroke-width="1"/>
<text class="yt" font-size="8.3" transform="translate(261.13 166.99) scale(1.0000 1)" x="-0.33" y="0">50</text>
<line x1="270.2" y1="150.18" x2="272" y2="150.18" stroke="#2a2a2a" stroke-width="1"/>
<text class="yt" font-size="8.3" transform="translate(256.81 153.13) scale(1.0000 1)" x="-0.63" y="0">100</text>
<line x1="270.2" y1="136.32" x2="272" y2="136.32" stroke="#2a2a2a" stroke-width="1"/>
<text class="yt" font-size="8.3" transform="translate(256.81 139.27) scale(1.0000 1)" x="-0.63" y="0">150</text>
<line x1="270.2" y1="122.46" x2="272" y2="122.46" stroke="#2a2a2a" stroke-width="1"/>
<text class="yt" font-size="8.3" transform="translate(256.59 125.41) scale(1.0000 1)" x="-0.42" y="0">200</text>
<line x1="270.2" y1="108.6" x2="272" y2="108.6" stroke="#2a2a2a" stroke-width="1"/>
<text class="yt" font-size="8.3" transform="translate(256.59 111.55) scale(1.0000 1)" x="-0.42" y="0">250</text>
<text class="xt" font-size="8.4" transform="translate(269.8 186.4) scale(0.9600 1)" x="-0.64" y="0">10</text>
<text class="xt" font-size="5" transform="translate(278.54 183.2) scale(1.0000 1)" x="-0.2" y="0">0</text>
<text class="xt" font-size="8.4" transform="translate(300.9 186.4) scale(0.9600 1)" x="-0.64" y="0">10</text>
<text class="xt" font-size="5" transform="translate(309.64 183.2) scale(1.0000 1)" x="-0.38" y="0">1</text>
<text class="xt" font-size="8.4" transform="translate(332.1 186.4) scale(0.9600 1)" x="-0.64" y="0">10</text>
<text class="xt" font-size="5" transform="translate(340.84 183.2) scale(1.0000 1)" x="-0.25" y="0">2</text>
<text class="xt" font-size="8.4" transform="translate(363.3 186.4) scale(0.9600 1)" x="-0.64" y="0">10</text>
<text class="xt" font-size="5" transform="translate(372.04 183.2) scale(1.0000 1)" x="-0.19" y="0">3</text>
<text class="lab" font-size="12.5" transform="translate(341 120.6) scale(0.9964 1)" x="-0.79" y="0">14.6%</text>
<path d="M407.8 176.2 L408.2 171.7 L408.34 171.38 L408.24 170.07 L408.36 169.65 L408.59 168.49 L409.11 167.44 L408.86 166.99 L409.4 166.46 L409.43 166.23 L409.34 164.94 L409.43 164.61 L409.47 163.85 L409.79 162.91 L409.82 162.61 L410.03 161.31 L410.53 160.75 L410.28 159.59 L410.76 159.44 L410.72 158.52 L411.03 157.28 L410.82 157.38 L411.08 156.41 L411.17 155.5 L411.2 154.72 L411.52 153.79 L411.19 153.11 L411.21 152.74 L411.55 151.35 L411.44 151.59 L411.54 150.6 L411.71 149.26 L412.14 149.09 L411.79 148.3 L411.91 147.82 L411.83 146.66 L412.28 146.28 L412.05 144.72 L412.36 144.62 L412.45 143.23 L412.43 143.26 L412.67 142.8 L412.48 141.66 L412.9 140.71 L412.68 139.88 L412.92 138.88 L413.32 138.05 L412.94 138.27 L413.58 137.22 L413.4 136.56 L413.25 135.32 L413.63 134.46 L413.98 134.33 L413.71 133.66 L414.19 133.02 L414.33 132.47 L414.25 131.95 L414.56 130.51 L414.28 129.66 L414.7 129.75 L414.71 129.28 L414.7 127.67 L415 127.52 L415.33 127.11 L415.57 126.34 L416.06 125.23 L416.5 124.71 L416.73 124.39 L416.76 124.5 L416.64 125.88 L416.83 126.65 L416.92 126.56 L417.45 127.87 L417.12 128.4 L417.3 129.14 L417.69 130.23 L417.92 131.29 L417.66 131.18 L418.14 132.14 L418.08 132.37 L417.83 133.24 L418.05 134.13 L418.4 135.2 L418.27 136.15 L418.64 136.84 L418.25 136.79 L418.25 137.29 L418.8 137.89 L418.78 138.52 L418.95 139.29 L418.9 140.96 L418.82 141.18 L419.22 142.37 L419.27 142.73 L419.31 143.8 L419.2 144.27 L419.37 144.4 L419.47 145.36 L419.57 146.18 L419.69 146.78 L419.72 147.3 L419.72 148.11 L419.43 148.46 L419.87 149.39 L419.72 150.54 L420.09 150.55 L419.92 152.16 L419.88 152.09 L420.39 153.22 L420.41 153.45 L420.27 154.9 L420.11 155.76 L420.42 156.5 L420.58 157.12 L420.82 157.99 L420.92 157.8 L420.46 159.1 L420.74 159.56 L421.13 161.02 L421.11 161.92 L421.48 162.8 L421.77 163.1 L422 163.93 L422.42 164.86 L422.51 165.62 L423.52 166.21 L423.91 166.71 L424.1 167.59 L424.55 167.68 L425.68 168.5 L426.27 169.33 L427.11 169.59 L427.89 169.74 L428.65 169.96 L429.04 170.84 L429.87 171.46 L430.9 171.45 L431.17 171.14 L432.04 172.46 L432.86 172.75 L433.68 172.83 L434.36 172.29 L434.88 172.81 L435.43 173.48 L436.24 173.45 L437.02 173.09 L437.63 173.38 L438.24 173.78 L438.9 173.23 L439.85 174.15 L440.18 173.98 L441.27 173.48 L441.9 174.13 L442.71 174.8 L443.35 174.8 L444.19 174.8 L444.62 174.8 L445.61 174.8 L446.15 174.8 L446.82 174.8 L447.68 174.8 L448.54 174.8 L449.01 174.8 L450.09 174.8 L450.78 174.8 L451.42 174.8 L451.99 174.8 L453.01 174.8 L453.43 174.8 L454.15 174.8 L455.28 174.8 L455.87 174.8 L456.44 174.8 L457.54 174.8 L458 174.8 L458.63 174.8 L459.24 174.8 L460.26 174.8 L461 174.8 L465 176.2 Z" fill="#d0d0d0" stroke="none"/>
<path d="M407.8 176.2 L408.2 171.7 L408.34 171.38 L408.24 170.07 L408.36 169.65 L408.59 168.49 L409.11 167.44 L408.86 166.99 L409.4 166.46 L409.43 166.23 L409.34 164.94 L409.43 164.61 L409.47 163.85 L409.79 162.91 L409.82 162.61 L410.03 161.31 L410.53 160.75 L410.28 159.59 L410.76 159.44 L410.72 158.52 L411.03 157.28 L410.82 157.38 L411.08 156.41 L411.17 155.5 L411.2 154.72 L411.52 153.79 L411.19 153.11 L411.21 152.74 L411.55 151.35 L411.44 151.59 L411.54 150.6 L411.71 149.26 L412.14 149.09 L411.79 148.3 L411.91 147.82 L411.83 146.66 L412.28 146.28 L412.05 144.72 L412.36 144.62 L412.45 143.23 L412.43 143.26 L412.67 142.8 L412.48 141.66 L412.9 140.71 L412.68 139.88 L412.92 138.88 L413.32 138.05 L412.94 138.27 L413.58 137.22 L413.4 136.56 L413.25 135.32 L413.63 134.46 L413.98 134.33 L413.71 133.66 L414.19 133.02 L414.33 132.47 L414.25 131.95 L414.56 130.51 L414.28 129.66 L414.7 129.75 L414.71 129.28 L414.7 127.67 L415 127.52 L415.33 127.11 L415.57 126.34 L416.06 125.23 L416.5 124.71 L416.73 124.39 L416.76 124.5 L416.64 125.88 L416.83 126.65 L416.92 126.56 L417.45 127.87 L417.12 128.4 L417.3 129.14 L417.69 130.23 L417.92 131.29 L417.66 131.18 L418.14 132.14 L418.08 132.37 L417.83 133.24 L418.05 134.13 L418.4 135.2 L418.27 136.15 L418.64 136.84 L418.25 136.79 L418.25 137.29 L418.8 137.89 L418.78 138.52 L418.95 139.29 L418.9 140.96 L418.82 141.18 L419.22 142.37 L419.27 142.73 L419.31 143.8 L419.2 144.27 L419.37 144.4 L419.47 145.36 L419.57 146.18 L419.69 146.78 L419.72 147.3 L419.72 148.11 L419.43 148.46 L419.87 149.39 L419.72 150.54 L420.09 150.55 L419.92 152.16 L419.88 152.09 L420.39 153.22 L420.41 153.45 L420.27 154.9 L420.11 155.76 L420.42 156.5 L420.58 157.12 L420.82 157.99 L420.92 157.8 L420.46 159.1 L420.74 159.56 L421.13 161.02 L421.11 161.92 L421.48 162.8 L421.77 163.1 L422 163.93 L422.42 164.86 L422.51 165.62 L423.52 166.21 L423.91 166.71 L424.1 167.59 L424.55 167.68 L425.68 168.5 L426.27 169.33 L427.11 169.59 L427.89 169.74 L428.65 169.96 L429.04 170.84 L429.87 171.46 L430.9 171.45 L431.17 171.14 L432.04 172.46 L432.86 172.75 L433.68 172.83 L434.36 172.29 L434.88 172.81 L435.43 173.48 L436.24 173.45 L437.02 173.09 L437.63 173.38 L438.24 173.78 L438.9 173.23 L439.85 174.15 L440.18 173.98 L441.27 173.48 L441.9 174.13 L442.71 174.8 L443.35 174.8 L444.19 174.8 L444.62 174.8 L445.61 174.8 L446.15 174.8 L446.82 174.8 L447.68 174.8 L448.54 174.8 L449.01 174.8 L450.09 174.8 L450.78 174.8 L451.42 174.8 L451.99 174.8 L453.01 174.8 L453.43 174.8 L454.15 174.8 L455.28 174.8 L455.87 174.8 L456.44 174.8 L457.54 174.8 L458 174.8 L458.63 174.8 L459.24 174.8 L460.26 174.8 L461 174.8" fill="none" stroke="#000" stroke-width="1.7" stroke-linejoin="round"/>
<rect x="407.2" y="106.6" width="110.1" height="69.3" fill="none" stroke="#2a2a2a" stroke-width="1.1"/>
<line x1="422.6" y1="106.6" x2="422.6" y2="175.9" stroke="#2a2a2a" stroke-width="1.1"/>
<line x1="405.4" y1="175.9" x2="407.2" y2="175.9" stroke="#2a2a2a" stroke-width="1"/>
<text class="yt" font-size="8.3" transform="translate(400.93 178.85) scale(1.0000 1)" x="-0.32" y="0">0</text>
<line x1="405.4" y1="162.04" x2="407.2" y2="162.04" stroke="#2a2a2a" stroke-width="1"/>
<text class="yt" font-size="8.3" transform="translate(396.33 164.99) scale(1.0000 1)" x="-0.33" y="0">50</text>
<line x1="405.4" y1="148.18" x2="407.2" y2="148.18" stroke="#2a2a2a" stroke-width="1"/>
<text class="yt" font-size="8.3" transform="translate(392.01 151.13) scale(1.0000 1)" x="-0.63" y="0">100</text>
<line x1="405.4" y1="134.32" x2="407.2" y2="134.32" stroke="#2a2a2a" stroke-width="1"/>
<text class="yt" font-size="8.3" transform="translate(392.01 137.27) scale(1.0000 1)" x="-0.63" y="0">150</text>
<line x1="405.4" y1="120.46" x2="407.2" y2="120.46" stroke="#2a2a2a" stroke-width="1"/>
<text class="yt" font-size="8.3" transform="translate(391.79 123.41) scale(1.0000 1)" x="-0.42" y="0">200</text>
<line x1="405.4" y1="106.6" x2="407.2" y2="106.6" stroke="#2a2a2a" stroke-width="1"/>
<text class="yt" font-size="8.3" transform="translate(391.79 109.55) scale(1.0000 1)" x="-0.42" y="0">250</text>
<text class="xt" font-size="8.4" transform="translate(405 184.4) scale(0.9600 1)" x="-0.64" y="0">10</text>
<text class="xt" font-size="5" transform="translate(413.74 181.2) scale(1.0000 1)" x="-0.2" y="0">0</text>
<text class="xt" font-size="8.4" transform="translate(436.1 184.4) scale(0.9600 1)" x="-0.64" y="0">10</text>
<text class="xt" font-size="5" transform="translate(444.84 181.2) scale(1.0000 1)" x="-0.38" y="0">1</text>
<text class="xt" font-size="8.4" transform="translate(467.3 184.4) scale(0.9600 1)" x="-0.64" y="0">10</text>
<text class="xt" font-size="5" transform="translate(476.04 181.2) scale(1.0000 1)" x="-0.25" y="0">2</text>
<text class="xt" font-size="8.4" transform="translate(498.5 184.4) scale(0.9600 1)" x="-0.64" y="0">10</text>
<text class="xt" font-size="5" transform="translate(507.24 181.2) scale(1.0000 1)" x="-0.19" y="0">3</text>
<text class="lab" font-size="12.5" transform="translate(475.6 118.2) scale(1.0226 1)" x="-0.79" y="0">17.2%</text>
<path d="M132 272 L132.5 270 L132.57 269.61 L132.63 268.34 L132.84 267.54 L132.92 267.27 L133.15 265.95 L133.44 265.35 L133.57 264.5 L133.66 264.21 L133.79 263.8 L134 262.57 L133.99 261.61 L134.17 261.13 L134.07 260.57 L134.45 259.39 L134.54 259.12 L134.41 258.42 L134.52 257.1 L134.91 257.07 L134.9 256.37 L135.05 255.59 L135.09 254.52 L135.39 253.91 L135.32 253.45 L135.54 252.65 L135.49 252.07 L135.67 250.75 L135.79 250.34 L135.72 249.27 L136.02 248.94 L135.92 248.16 L136.14 247.62 L136.37 246.35 L136.42 245.64 L136.33 245.06 L136.77 244.8 L136.77 243.7 L136.93 242.81 L136.94 242.1 L136.86 242.08 L137.08 240.68 L137.23 240.61 L137.43 239.23 L137.44 239.23 L137.54 238.1 L137.73 237.78 L137.93 236.54 L137.95 236.03 L137.88 234.98 L137.98 234.33 L138.1 234.1 L138.13 233.15 L138.56 232.69 L138.44 231.32 L138.57 231.16 L138.69 230.49 L138.71 229.57 L138.9 228.63 L138.88 228.31 L139 227.41 L138.96 227.06 L139.12 226.19 L139.26 225.5 L139.4 224.56 L139.55 224.15 L139.5 223.24 L139.36 222.09 L139.69 221.52 L139.58 220.98 L139.58 220.56 L139.76 219.22 L139.92 218.43 L139.91 217.67 L140.04 217.48 L139.93 216.42 L140.11 215.53 L140.04 214.74 L139.91 213.86 L140 213 L140.12 212.32 L140.2 211.93 L140.4 210.9 L140.55 210.23 L140.86 209.3 L141.32 209.41 L141.44 210.24 L141.87 210.8 L142.08 210.27 L142.33 209.73 L142.65 210.38 L142.62 210.82 L142.89 212.14 L142.68 212.38 L142.79 213.24 L143.04 213.83 L143.1 214.64 L142.91 215.88 L143.15 216.39 L142.96 216.77 L143.07 217.73 L143.13 218.37 L142.95 219.28 L143.11 220.05 L143.01 220.5 L143.06 220.78 L143.37 221.51 L143.4 222.31 L143.33 223.42 L143.5 223.8 L143.39 224.82 L143.44 225.51 L143.55 226.2 L143.51 226.51 L143.59 227.6 L143.55 228.45 L143.51 228.97 L143.68 229.28 L143.8 230.68 L143.76 231.25 L143.56 232.04 L143.82 232.56 L143.75 233.55 L143.87 234.26 L143.92 234.29 L143.59 235.49 L143.98 236.12 L143.77 237.09 L143.94 237.61 L144.02 237.82 L144.33 238.84 L144.41 239.67 L144.41 240.31 L144.45 241.25 L144.59 241.57 L144.92 242.35 L144.8 243.39 L145.02 244.21 L144.94 244.82 L145.15 245.17 L145.31 245.78 L145.52 246.63 L145.33 247.74 L145.49 248.22 L145.65 249.01 L145.65 249.43 L145.84 250.22 L146.04 251.2 L146.18 251.57 L146.25 252.57 L146.36 253.2 L146.46 253.86 L146.55 254.78 L146.89 255.14 L146.74 255.85 L146.86 256.48 L147.15 257.84 L147 257.84 L147.37 258.65 L147.34 259.56 L147.32 260.23 L147.76 261.1 L147.86 262.24 L147.94 262.34 L148.18 263.43 L148.6 263.77 L148.88 264.69 L148.86 265.03 L149.45 265.62 L150.09 266.75 L150.85 267.39 L151.37 267.79 L152.13 268.03 L152.86 268.38 L153.5 268.16 L154.15 268.94 L154.86 269.02 L155.55 269.17 L156.31 268.9 L157.28 268.83 L158.01 269.13 L158.64 269.19 L159.44 268.99 L160.02 268.94 L160.56 269.11 L161.42 269.46 L162.04 269.68 L162.77 269.71 L163.66 269.51 L164.17 269.3 L165.08 269.48 L165.61 269.51 L166.49 269.23 L167.07 269.68 L168.05 269.4 L168.56 269.72 L169.47 269.34 L170.13 269.67 L170.71 269.92 L171.46 269.35 L171.99 269.81 L172.81 269.66 L173.49 269.85 L174.1 270.7 L174.71 269.58 L175.78 270.7 L176.12 270.08 L176.95 269.68 L177.56 269.86 L178.44 270.7 L178.96 270.7 L179.82 270.7 L180.65 270.7 L181.11 269.95 L181.86 269.98 L182.54 270.7 L183.31 270.7 L184 270.7 L188 272 Z" fill="#d0d0d0" stroke="none"/>
<path d="M132 272 L132.5 270 L132.57 269.61 L132.63 268.34 L132.84 267.54 L132.92 267.27 L133.15 265.95 L133.44 265.35 L133.57 264.5 L133.66 264.21 L133.79 263.8 L134 262.57 L133.99 261.61 L134.17 261.13 L134.07 260.57 L134.45 259.39 L134.54 259.12 L134.41 258.42 L134.52 257.1 L134.91 257.07 L134.9 256.37 L135.05 255.59 L135.09 254.52 L135.39 253.91 L135.32 253.45 L135.54 252.65 L135.49 252.07 L135.67 250.75 L135.79 250.34 L135.72 249.27 L136.02 248.94 L135.92 248.16 L136.14 247.62 L136.37 246.35 L136.42 245.64 L136.33 245.06 L136.77 244.8 L136.77 243.7 L136.93 242.81 L136.94 242.1 L136.86 242.08 L137.08 240.68 L137.23 240.61 L137.43 239.23 L137.44 239.23 L137.54 238.1 L137.73 237.78 L137.93 236.54 L137.95 236.03 L137.88 234.98 L137.98 234.33 L138.1 234.1 L138.13 233.15 L138.56 232.69 L138.44 231.32 L138.57 231.16 L138.69 230.49 L138.71 229.57 L138.9 228.63 L138.88 228.31 L139 227.41 L138.96 227.06 L139.12 226.19 L139.26 225.5 L139.4 224.56 L139.55 224.15 L139.5 223.24 L139.36 222.09 L139.69 221.52 L139.58 220.98 L139.58 220.56 L139.76 219.22 L139.92 218.43 L139.91 217.67 L140.04 217.48 L139.93 216.42 L140.11 215.53 L140.04 214.74 L139.91 213.86 L140 213 L140.12 212.32 L140.2 211.93 L140.4 210.9 L140.55 210.23 L140.86 209.3 L141.32 209.41 L141.44 210.24 L141.87 210.8 L142.08 210.27 L142.33 209.73 L142.65 210.38 L142.62 210.82 L142.89 212.14 L142.68 212.38 L142.79 213.24 L143.04 213.83 L143.1 214.64 L142.91 215.88 L143.15 216.39 L142.96 216.77 L143.07 217.73 L143.13 218.37 L142.95 219.28 L143.11 220.05 L143.01 220.5 L143.06 220.78 L143.37 221.51 L143.4 222.31 L143.33 223.42 L143.5 223.8 L143.39 224.82 L143.44 225.51 L143.55 226.2 L143.51 226.51 L143.59 227.6 L143.55 228.45 L143.51 228.97 L143.68 229.28 L143.8 230.68 L143.76 231.25 L143.56 232.04 L143.82 232.56 L143.75 233.55 L143.87 234.26 L143.92 234.29 L143.59 235.49 L143.98 236.12 L143.77 237.09 L143.94 237.61 L144.02 237.82 L144.33 238.84 L144.41 239.67 L144.41 240.31 L144.45 241.25 L144.59 241.57 L144.92 242.35 L144.8 243.39 L145.02 244.21 L144.94 244.82 L145.15 245.17 L145.31 245.78 L145.52 246.63 L145.33 247.74 L145.49 248.22 L145.65 249.01 L145.65 249.43 L145.84 250.22 L146.04 251.2 L146.18 251.57 L146.25 252.57 L146.36 253.2 L146.46 253.86 L146.55 254.78 L146.89 255.14 L146.74 255.85 L146.86 256.48 L147.15 257.84 L147 257.84 L147.37 258.65 L147.34 259.56 L147.32 260.23 L147.76 261.1 L147.86 262.24 L147.94 262.34 L148.18 263.43 L148.6 263.77 L148.88 264.69 L148.86 265.03 L149.45 265.62 L150.09 266.75 L150.85 267.39 L151.37 267.79 L152.13 268.03 L152.86 268.38 L153.5 268.16 L154.15 268.94 L154.86 269.02 L155.55 269.17 L156.31 268.9 L157.28 268.83 L158.01 269.13 L158.64 269.19 L159.44 268.99 L160.02 268.94 L160.56 269.11 L161.42 269.46 L162.04 269.68 L162.77 269.71 L163.66 269.51 L164.17 269.3 L165.08 269.48 L165.61 269.51 L166.49 269.23 L167.07 269.68 L168.05 269.4 L168.56 269.72 L169.47 269.34 L170.13 269.67 L170.71 269.92 L171.46 269.35 L171.99 269.81 L172.81 269.66 L173.49 269.85 L174.1 270.7 L174.71 269.58 L175.78 270.7 L176.12 270.08 L176.95 269.68 L177.56 269.86 L178.44 270.7 L178.96 270.7 L179.82 270.7 L180.65 270.7 L181.11 269.95 L181.86 269.98 L182.54 270.7 L183.31 270.7 L184 270.7" fill="none" stroke="#000" stroke-width="1.7" stroke-linejoin="round"/>
<rect x="131.5" y="201.8" width="109.9" height="70" fill="none" stroke="#2a2a2a" stroke-width="1.1"/>
<line x1="147.4" y1="201.8" x2="147.4" y2="271.8" stroke="#2a2a2a" stroke-width="1.1"/>
<line x1="129.7" y1="271.8" x2="131.5" y2="271.8" stroke="#2a2a2a" stroke-width="1"/>
<text class="yt" font-size="8.3" transform="translate(125.23 274.75) scale(1.0000 1)" x="-0.32" y="0">0</text>
<line x1="129.7" y1="257.8" x2="131.5" y2="257.8" stroke="#2a2a2a" stroke-width="1"/>
<text class="yt" font-size="8.3" transform="translate(120.63 260.75) scale(1.0000 1)" x="-0.33" y="0">50</text>
<line x1="129.7" y1="243.8" x2="131.5" y2="243.8" stroke="#2a2a2a" stroke-width="1"/>
<text class="yt" font-size="8.3" transform="translate(116.31 246.75) scale(1.0000 1)" x="-0.63" y="0">100</text>
<line x1="129.7" y1="229.8" x2="131.5" y2="229.8" stroke="#2a2a2a" stroke-width="1"/>
<text class="yt" font-size="8.3" transform="translate(116.31 232.75) scale(1.0000 1)" x="-0.63" y="0">150</text>
<line x1="129.7" y1="215.8" x2="131.5" y2="215.8" stroke="#2a2a2a" stroke-width="1"/>
<text class="yt" font-size="8.3" transform="translate(116.09 218.75) scale(1.0000 1)" x="-0.42" y="0">200</text>
<line x1="129.7" y1="201.8" x2="131.5" y2="201.8" stroke="#2a2a2a" stroke-width="1"/>
<text class="yt" font-size="8.3" transform="translate(116.09 204.75) scale(1.0000 1)" x="-0.42" y="0">250</text>
<text class="xt" font-size="8.4" transform="translate(129.3 280.3) scale(0.9600 1)" x="-0.64" y="0">10</text>
<text class="xt" font-size="5" transform="translate(138.04 277.1) scale(1.0000 1)" x="-0.2" y="0">0</text>
<text class="xt" font-size="8.4" transform="translate(160.4 280.3) scale(0.9600 1)" x="-0.64" y="0">10</text>
<text class="xt" font-size="5" transform="translate(169.14 277.1) scale(1.0000 1)" x="-0.38" y="0">1</text>
<text class="xt" font-size="8.4" transform="translate(191.6 280.3) scale(0.9600 1)" x="-0.64" y="0">10</text>
<text class="xt" font-size="5" transform="translate(200.34 277.1) scale(1.0000 1)" x="-0.25" y="0">2</text>
<text class="xt" font-size="8.4" transform="translate(222.8 280.3) scale(0.9600 1)" x="-0.64" y="0">10</text>
<text class="xt" font-size="5" transform="translate(231.54 277.1) scale(1.0000 1)" x="-0.19" y="0">3</text>
<text class="lab" font-size="12.5" transform="translate(200.4 213.8) scale(0.9993 1)" x="-0.79" y="0">10.4%</text>
<path d="M274.3 271.2 L274.8 268 L274.78 267.61 L275.23 266.3 L275.18 265.99 L275.4 265.12 L275.74 264.89 L275.79 264.18 L275.73 263.43 L275.95 262.64 L276 261.7 L276.01 260.56 L276.36 260.4 L276.26 259.29 L276.56 258.56 L276.79 258.31 L276.86 257.33 L276.94 256.42 L277.08 255.82 L277.01 255.38 L277.19 254.62 L277.19 253.44 L277.44 252.96 L277.48 251.78 L277.61 251.62 L277.76 250.41 L278.01 249.53 L277.97 249.47 L278.06 248.22 L278.04 247.47 L278.28 247.27 L278.26 246.12 L278.58 245.8 L278.46 244.56 L278.83 244.37 L278.87 243.15 L278.86 242.75 L278.91 242.25 L279.27 241.19 L279.37 240.33 L279.17 239.77 L279.52 239.04 L279.69 238.71 L279.58 237.72 L279.86 236.73 L279.95 236.32 L280.07 235.24 L280.02 234.85 L280.34 234.29 L280.19 233.67 L280.51 232.37 L280.41 232.04 L280.8 231.56 L280.81 230.54 L280.92 229.8 L281.02 228.86 L280.88 228.6 L281.35 227.21 L281.3 227.03 L281.57 226.05 L281.4 225.16 L281.54 224.63 L281.54 223.89 L281.71 222.99 L281.84 221.81 L282.08 220.85 L282.22 220.71 L282.42 220.08 L282.2 219.35 L282.41 218.34 L282.84 217.38 L283.04 217.13 L283.23 215.75 L283.12 215.28 L283.33 214.76 L283.04 214.09 L283.14 212.92 L283.2 212.11 L283.24 211.76 L283.18 211.29 L283.13 210 L283.43 209.31 L283.18 208.78 L283.34 207.89 L283.56 207.37 L283.61 207.8 L284.03 209.38 L283.85 209.91 L283.95 210.24 L283.99 211.34 L284.21 211.99 L284.14 212.69 L284.23 213.69 L284.24 214.01 L284.03 215.1 L284.24 215.49 L284.58 216.36 L284.8 217.77 L285.21 217.9 L285.13 218.94 L285.27 219.7 L285.38 220.54 L285.58 221.16 L285.32 221.6 L285.39 222.85 L285.66 223.18 L285.69 223.81 L285.66 224.6 L285.69 225.72 L285.57 226.02 L285.65 227.06 L285.94 227.84 L285.78 228.31 L285.92 229.08 L286.22 230.13 L286.08 230.85 L286.16 231.58 L286.45 232.05 L286.49 232.6 L286.41 233.24 L286.42 234 L286.89 234.69 L286.98 235.43 L286.9 236.28 L286.93 236.78 L287.15 237.95 L287.44 238.78 L287.48 239.09 L287.41 240.3 L287.68 240.86 L287.94 241.32 L287.86 242.16 L287.74 243.15 L288.15 243.49 L287.88 244.46 L287.99 245.13 L287.98 245.88 L288.27 246.14 L288.19 247.36 L288.46 247.63 L288.46 248.49 L288.32 249.26 L288.33 249.64 L288.49 250.29 L288.7 250.89 L288.8 251.64 L288.86 252.82 L288.73 253.62 L288.88 253.69 L288.96 254.74 L289.18 255.03 L289.15 256.02 L289.12 256.58 L289.13 257.47 L289.16 257.93 L289.4 258.84 L289.35 259.66 L289.61 259.98 L289.52 261.01 L289.73 261.74 L290.04 262.11 L290.27 262.83 L290.72 263.61 L290.86 263.91 L291.18 265.05 L291.57 265.38 L291.45 266.48 L291.96 267 L292.54 267.24 L293.34 267.53 L294.4 267.71 L294.98 268.59 L295.54 268.75 L296.43 268.31 L297.14 268.87 L297.94 268.61 L298.62 268.47 L299.48 268.96 L300.05 269.08 L300.65 268.87 L301.29 269.4 L302.29 269.24 L302.97 269.17 L303.62 269.23 L304.34 269.45 L304.93 270.2 L305.71 270.2 L306.36 269.18 L307.18 269.26 L307.74 269.47 L308.65 269.47 L309.32 269.54 L309.98 269.44 L310.58 269.52 L311.21 270.2 L312.11 269.42 L312.58 270.2 L313.21 269.46 L314.18 270.2 L314.7 270.2 L315.47 270.2 L316.36 270.2 L316.87 270.2 L317.8 270.2 L318.15 270.2 L318.83 270.2 L319.74 270.2 L320.28 270.2 L321.02 270.2 L321.99 270.2 L322.33 270.2 L323.22 270.2 L323.71 270.2 L324.53 270.2 L325.38 270.2 L326 270.2 L330 271.2 Z" fill="#d0d0d0" stroke="none"/>
<path d="M274.3 271.2 L274.8 268 L274.78 267.61 L275.23 266.3 L275.18 265.99 L275.4 265.12 L275.74 264.89 L275.79 264.18 L275.73 263.43 L275.95 262.64 L276 261.7 L276.01 260.56 L276.36 260.4 L276.26 259.29 L276.56 258.56 L276.79 258.31 L276.86 257.33 L276.94 256.42 L277.08 255.82 L277.01 255.38 L277.19 254.62 L277.19 253.44 L277.44 252.96 L277.48 251.78 L277.61 251.62 L277.76 250.41 L278.01 249.53 L277.97 249.47 L278.06 248.22 L278.04 247.47 L278.28 247.27 L278.26 246.12 L278.58 245.8 L278.46 244.56 L278.83 244.37 L278.87 243.15 L278.86 242.75 L278.91 242.25 L279.27 241.19 L279.37 240.33 L279.17 239.77 L279.52 239.04 L279.69 238.71 L279.58 237.72 L279.86 236.73 L279.95 236.32 L280.07 235.24 L280.02 234.85 L280.34 234.29 L280.19 233.67 L280.51 232.37 L280.41 232.04 L280.8 231.56 L280.81 230.54 L280.92 229.8 L281.02 228.86 L280.88 228.6 L281.35 227.21 L281.3 227.03 L281.57 226.05 L281.4 225.16 L281.54 224.63 L281.54 223.89 L281.71 222.99 L281.84 221.81 L282.08 220.85 L282.22 220.71 L282.42 220.08 L282.2 219.35 L282.41 218.34 L282.84 217.38 L283.04 217.13 L283.23 215.75 L283.12 215.28 L283.33 214.76 L283.04 214.09 L283.14 212.92 L283.2 212.11 L283.24 211.76 L283.18 211.29 L283.13 210 L283.43 209.31 L283.18 208.78 L283.34 207.89 L283.56 207.37 L283.61 207.8 L284.03 209.38 L283.85 209.91 L283.95 210.24 L283.99 211.34 L284.21 211.99 L284.14 212.69 L284.23 213.69 L284.24 214.01 L284.03 215.1 L284.24 215.49 L284.58 216.36 L284.8 217.77 L285.21 217.9 L285.13 218.94 L285.27 219.7 L285.38 220.54 L285.58 221.16 L285.32 221.6 L285.39 222.85 L285.66 223.18 L285.69 223.81 L285.66 224.6 L285.69 225.72 L285.57 226.02 L285.65 227.06 L285.94 227.84 L285.78 228.31 L285.92 229.08 L286.22 230.13 L286.08 230.85 L286.16 231.58 L286.45 232.05 L286.49 232.6 L286.41 233.24 L286.42 234 L286.89 234.69 L286.98 235.43 L286.9 236.28 L286.93 236.78 L287.15 237.95 L287.44 238.78 L287.48 239.09 L287.41 240.3 L287.68 240.86 L287.94 241.32 L287.86 242.16 L287.74 243.15 L288.15 243.49 L287.88 244.46 L287.99 245.13 L287.98 245.88 L288.27 246.14 L288.19 247.36 L288.46 247.63 L288.46 248.49 L288.32 249.26 L288.33 249.64 L288.49 250.29 L288.7 250.89 L288.8 251.64 L288.86 252.82 L288.73 253.62 L288.88 253.69 L288.96 254.74 L289.18 255.03 L289.15 256.02 L289.12 256.58 L289.13 257.47 L289.16 257.93 L289.4 258.84 L289.35 259.66 L289.61 259.98 L289.52 261.01 L289.73 261.74 L290.04 262.11 L290.27 262.83 L290.72 263.61 L290.86 263.91 L291.18 265.05 L291.57 265.38 L291.45 266.48 L291.96 267 L292.54 267.24 L293.34 267.53 L294.4 267.71 L294.98 268.59 L295.54 268.75 L296.43 268.31 L297.14 268.87 L297.94 268.61 L298.62 268.47 L299.48 268.96 L300.05 269.08 L300.65 268.87 L301.29 269.4 L302.29 269.24 L302.97 269.17 L303.62 269.23 L304.34 269.45 L304.93 270.2 L305.71 270.2 L306.36 269.18 L307.18 269.26 L307.74 269.47 L308.65 269.47 L309.32 269.54 L309.98 269.44 L310.58 269.52 L311.21 270.2 L312.11 269.42 L312.58 270.2 L313.21 269.46 L314.18 270.2 L314.7 270.2 L315.47 270.2 L316.36 270.2 L316.87 270.2 L317.8 270.2 L318.15 270.2 L318.83 270.2 L319.74 270.2 L320.28 270.2 L321.02 270.2 L321.99 270.2 L322.33 270.2 L323.22 270.2 L323.71 270.2 L324.53 270.2 L325.38 270.2 L326 270.2" fill="none" stroke="#000" stroke-width="1.7" stroke-linejoin="round"/>
<rect x="273.8" y="201.5" width="110.3" height="69.8" fill="none" stroke="#2a2a2a" stroke-width="1.1"/>
<line x1="289.8" y1="201.5" x2="289.8" y2="271.3" stroke="#2a2a2a" stroke-width="1.1"/>
<line x1="272" y1="271.3" x2="273.8" y2="271.3" stroke="#2a2a2a" stroke-width="1"/>
<text class="yt" font-size="8.3" transform="translate(267.53 274.25) scale(1.0000 1)" x="-0.32" y="0">0</text>
<line x1="272" y1="257.34" x2="273.8" y2="257.34" stroke="#2a2a2a" stroke-width="1"/>
<text class="yt" font-size="8.3" transform="translate(262.93 260.29) scale(1.0000 1)" x="-0.33" y="0">50</text>
<line x1="272" y1="243.38" x2="273.8" y2="243.38" stroke="#2a2a2a" stroke-width="1"/>
<text class="yt" font-size="8.3" transform="translate(258.61 246.33) scale(1.0000 1)" x="-0.63" y="0">100</text>
<line x1="272" y1="229.42" x2="273.8" y2="229.42" stroke="#2a2a2a" stroke-width="1"/>
<text class="yt" font-size="8.3" transform="translate(258.61 232.37) scale(1.0000 1)" x="-0.63" y="0">150</text>
<line x1="272" y1="215.46" x2="273.8" y2="215.46" stroke="#2a2a2a" stroke-width="1"/>
<text class="yt" font-size="8.3" transform="translate(258.39 218.41) scale(1.0000 1)" x="-0.42" y="0">200</text>
<line x1="272" y1="201.5" x2="273.8" y2="201.5" stroke="#2a2a2a" stroke-width="1"/>
<text class="yt" font-size="8.3" transform="translate(258.39 204.45) scale(1.0000 1)" x="-0.42" y="0">250</text>
<text class="xt" font-size="8.4" transform="translate(271.6 279.8) scale(0.9600 1)" x="-0.64" y="0">10</text>
<text class="xt" font-size="5" transform="translate(280.34 276.6) scale(1.0000 1)" x="-0.2" y="0">0</text>
<text class="xt" font-size="8.4" transform="translate(302.7 279.8) scale(0.9600 1)" x="-0.64" y="0">10</text>
<text class="xt" font-size="5" transform="translate(311.44 276.6) scale(1.0000 1)" x="-0.38" y="0">1</text>
<text class="xt" font-size="8.4" transform="translate(333.9 279.8) scale(0.9600 1)" x="-0.64" y="0">10</text>
<text class="xt" font-size="5" transform="translate(342.64 276.6) scale(1.0000 1)" x="-0.25" y="0">2</text>
<text class="xt" font-size="8.4" transform="translate(365.1 279.8) scale(0.9600 1)" x="-0.64" y="0">10</text>
<text class="xt" font-size="5" transform="translate(373.84 276.6) scale(1.0000 1)" x="-0.19" y="0">3</text>
<text class="lab" font-size="12.5" transform="translate(342.7 213.7) scale(1.0138 1)" x="-0.79" y="0">10.9%</text>
<path d="M408.7 269.8 L408.9 266.7 L408.93 265.64 L409.16 264.79 L409.21 264.24 L409.12 263.57 L409.21 262.73 L409.33 261.67 L409.6 261.54 L409.62 260.35 L409.95 260.21 L410.06 259.05 L410.36 258.05 L410.44 257.53 L410.2 256.68 L410.32 256.53 L410.31 255.63 L410.54 254.74 L410.55 253.78 L410.4 253.18 L410.7 252.65 L410.6 252.06 L410.7 251.12 L410.88 250.73 L410.71 249.91 L410.87 249.44 L411 248.26 L411.15 247.41 L410.97 247.21 L410.92 246.27 L410.94 245.69 L411.29 244.89 L411.4 243.96 L411.39 243.46 L411.4 242.63 L411.57 242.29 L411.48 241.35 L411.38 240.65 L411.67 240.16 L411.81 238.87 L411.69 238.46 L411.61 237.57 L411.74 236.53 L411.76 236.29 L411.86 235.12 L412.04 234.86 L411.98 233.76 L412.24 233.35 L412.42 232.57 L412.27 231.45 L412.37 231.07 L412.68 229.72 L412.44 229.06 L412.54 228.53 L412.75 227.63 L412.59 227.03 L412.81 226.42 L413.12 225.79 L413.02 225 L413.15 223.83 L413.31 223.68 L413.38 222.97 L413.26 221.92 L413.14 221.36 L413.12 220.15 L413.18 219.48 L413.24 218.64 L413.1 217.97 L413.14 217.39 L413.11 217.05 L413.35 215.72 L413.5 215.13 L413.85 214.2 L414.34 214.14 L414.49 212.99 L414.38 211.98 L414.54 211.41 L414.78 210.63 L414.51 210.56 L414.76 209.22 L414.82 208.42 L414.86 208.48 L415.05 207.56 L414.85 206.59 L414.87 206.22 L415.21 205.32 L415.33 203.98 L415.72 205.49 L415.94 206.24 L415.97 206.89 L415.77 207.41 L415.86 207.72 L415.77 208.62 L415.9 209.65 L416.22 210.16 L416.25 211.29 L416.3 211.49 L416.05 212.08 L416.08 212.76 L416.35 214.07 L416.54 214.48 L416.56 215.49 L416.43 216.13 L416.83 216.98 L416.83 217.48 L416.66 218.48 L416.78 219.24 L417.1 219.67 L416.94 220.86 L417.13 220.99 L416.95 221.72 L417.36 222.97 L417.16 223.72 L417.59 224.31 L417.44 224.95 L417.45 225.25 L417.89 226.48 L417.81 227.44 L417.87 228.12 L418.13 228.31 L418 229.11 L418.1 230.07 L418.18 230.66 L418.2 231.78 L418.36 232.15 L418.52 233.23 L418.53 233.97 L418.64 234.39 L418.72 234.71 L418.76 235.56 L418.66 236.78 L418.8 237.25 L419.09 238.05 L419.04 238.74 L419.24 239.68 L419.17 240.23 L419.34 240.73 L419.65 241.64 L419.68 242.57 L419.93 243.05 L419.92 243.82 L419.99 244.7 L420.07 245.3 L420.19 246.35 L420.36 247.03 L420.53 247.27 L420.45 248.55 L420.64 248.63 L420.43 249.61 L420.49 250.18 L420.57 251.25 L420.93 252.16 L420.75 252.75 L421.03 253.02 L421.2 254.41 L421.01 255.13 L421.16 255.49 L421.61 256.52 L421.5 256.95 L421.86 257.62 L421.94 258.35 L422.37 258.87 L422.52 259.95 L422.49 260.6 L422.92 261.48 L422.88 262.59 L423.35 263.31 L423.26 263.48 L423.42 264.62 L424.19 264.58 L424.93 265.69 L425.77 265.65 L426.18 266.66 L427.03 266.96 L427.56 266.54 L428.53 266.92 L429.01 267.42 L429.96 267.4 L430.47 267.54 L431.19 267.64 L432.07 267.31 L432.84 267.87 L433.45 267.32 L434.28 267.5 L434.84 267.53 L435.57 267.64 L436.42 267.79 L437.35 267.86 L438 267.84 L438.69 267.79 L439.4 267.86 L440.34 268.6 L440.88 268.6 L441.84 267.62 L442.46 267.41 L443 267.27 L443.72 266.74 L444.61 266.85 L445.24 266.47 L446.23 266.71 L446.96 266.88 L447.82 267.5 L448.53 268.6 L449.3 267.69 L449.93 268.6 L450.95 268.6 L451.41 267.99 L452.12 268.6 L452.76 268.6 L453.51 268.6 L454.49 268.6 L454.9 268.6 L455.67 268.6 L456.3 268.6 L457.24 268.6 L457.88 268.6 L458.55 268.6 L459.34 268.6 L460.07 268.6 L460.92 268.6 L461.78 268.6 L462.6 268.6 L463.34 268.6 L464 268.6 L468 269.8 Z" fill="#d0d0d0" stroke="none"/>
<path d="M408.7 269.8 L408.9 266.7 L408.93 265.64 L409.16 264.79 L409.21 264.24 L409.12 263.57 L409.21 262.73 L409.33 261.67 L409.6 261.54 L409.62 260.35 L409.95 260.21 L410.06 259.05 L410.36 258.05 L410.44 257.53 L410.2 256.68 L410.32 256.53 L410.31 255.63 L410.54 254.74 L410.55 253.78 L410.4 253.18 L410.7 252.65 L410.6 252.06 L410.7 251.12 L410.88 250.73 L410.71 249.91 L410.87 249.44 L411 248.26 L411.15 247.41 L410.97 247.21 L410.92 246.27 L410.94 245.69 L411.29 244.89 L411.4 243.96 L411.39 243.46 L411.4 242.63 L411.57 242.29 L411.48 241.35 L411.38 240.65 L411.67 240.16 L411.81 238.87 L411.69 238.46 L411.61 237.57 L411.74 236.53 L411.76 236.29 L411.86 235.12 L412.04 234.86 L411.98 233.76 L412.24 233.35 L412.42 232.57 L412.27 231.45 L412.37 231.07 L412.68 229.72 L412.44 229.06 L412.54 228.53 L412.75 227.63 L412.59 227.03 L412.81 226.42 L413.12 225.79 L413.02 225 L413.15 223.83 L413.31 223.68 L413.38 222.97 L413.26 221.92 L413.14 221.36 L413.12 220.15 L413.18 219.48 L413.24 218.64 L413.1 217.97 L413.14 217.39 L413.11 217.05 L413.35 215.72 L413.5 215.13 L413.85 214.2 L414.34 214.14 L414.49 212.99 L414.38 211.98 L414.54 211.41 L414.78 210.63 L414.51 210.56 L414.76 209.22 L414.82 208.42 L414.86 208.48 L415.05 207.56 L414.85 206.59 L414.87 206.22 L415.21 205.32 L415.33 203.98 L415.72 205.49 L415.94 206.24 L415.97 206.89 L415.77 207.41 L415.86 207.72 L415.77 208.62 L415.9 209.65 L416.22 210.16 L416.25 211.29 L416.3 211.49 L416.05 212.08 L416.08 212.76 L416.35 214.07 L416.54 214.48 L416.56 215.49 L416.43 216.13 L416.83 216.98 L416.83 217.48 L416.66 218.48 L416.78 219.24 L417.1 219.67 L416.94 220.86 L417.13 220.99 L416.95 221.72 L417.36 222.97 L417.16 223.72 L417.59 224.31 L417.44 224.95 L417.45 225.25 L417.89 226.48 L417.81 227.44 L417.87 228.12 L418.13 228.31 L418 229.11 L418.1 230.07 L418.18 230.66 L418.2 231.78 L418.36 232.15 L418.52 233.23 L418.53 233.97 L418.64 234.39 L418.72 234.71 L418.76 235.56 L418.66 236.78 L418.8 237.25 L419.09 238.05 L419.04 238.74 L419.24 239.68 L419.17 240.23 L419.34 240.73 L419.65 241.64 L419.68 242.57 L419.93 243.05 L419.92 243.82 L419.99 244.7 L420.07 245.3 L420.19 246.35 L420.36 247.03 L420.53 247.27 L420.45 248.55 L420.64 248.63 L420.43 249.61 L420.49 250.18 L420.57 251.25 L420.93 252.16 L420.75 252.75 L421.03 253.02 L421.2 254.41 L421.01 255.13 L421.16 255.49 L421.61 256.52 L421.5 256.95 L421.86 257.62 L421.94 258.35 L422.37 258.87 L422.52 259.95 L422.49 260.6 L422.92 261.48 L422.88 262.59 L423.35 263.31 L423.26 263.48 L423.42 264.62 L424.19 264.58 L424.93 265.69 L425.77 265.65 L426.18 266.66 L427.03 266.96 L427.56 266.54 L428.53 266.92 L429.01 267.42 L429.96 267.4 L430.47 267.54 L431.19 267.64 L432.07 267.31 L432.84 267.87 L433.45 267.32 L434.28 267.5 L434.84 267.53 L435.57 267.64 L436.42 267.79 L437.35 267.86 L438 267.84 L438.69 267.79 L439.4 267.86 L440.34 268.6 L440.88 268.6 L441.84 267.62 L442.46 267.41 L443 267.27 L443.72 266.74 L444.61 266.85 L445.24 266.47 L446.23 266.71 L446.96 266.88 L447.82 267.5 L448.53 268.6 L449.3 267.69 L449.93 268.6 L450.95 268.6 L451.41 267.99 L452.12 268.6 L452.76 268.6 L453.51 268.6 L454.49 268.6 L454.9 268.6 L455.67 268.6 L456.3 268.6 L457.24 268.6 L457.88 268.6 L458.55 268.6 L459.34 268.6 L460.07 268.6 L460.92 268.6 L461.78 268.6 L462.6 268.6 L463.34 268.6 L464 268.6" fill="none" stroke="#000" stroke-width="1.7" stroke-linejoin="round"/>
<rect x="408.2" y="200.3" width="109.7" height="69.4" fill="none" stroke="#2a2a2a" stroke-width="1.1"/>
<line x1="423.7" y1="200.3" x2="423.7" y2="269.7" stroke="#2a2a2a" stroke-width="1.1"/>
<line x1="406.4" y1="269.7" x2="408.2" y2="269.7" stroke="#2a2a2a" stroke-width="1"/>
<text class="yt" font-size="8.3" transform="translate(401.93 272.65) scale(1.0000 1)" x="-0.32" y="0">0</text>
<line x1="406.4" y1="255.82" x2="408.2" y2="255.82" stroke="#2a2a2a" stroke-width="1"/>
<text class="yt" font-size="8.3" transform="translate(397.33 258.77) scale(1.0000 1)" x="-0.33" y="0">50</text>
<line x1="406.4" y1="241.94" x2="408.2" y2="241.94" stroke="#2a2a2a" stroke-width="1"/>
<text class="yt" font-size="8.3" transform="translate(393.01 244.89) scale(1.0000 1)" x="-0.63" y="0">100</text>
<line x1="406.4" y1="228.06" x2="408.2" y2="228.06" stroke="#2a2a2a" stroke-width="1"/>
<text class="yt" font-size="8.3" transform="translate(393.01 231.01) scale(1.0000 1)" x="-0.63" y="0">150</text>
<line x1="406.4" y1="214.18" x2="408.2" y2="214.18" stroke="#2a2a2a" stroke-width="1"/>
<text class="yt" font-size="8.3" transform="translate(392.79 217.13) scale(1.0000 1)" x="-0.42" y="0">200</text>
<line x1="406.4" y1="200.3" x2="408.2" y2="200.3" stroke="#2a2a2a" stroke-width="1"/>
<text class="yt" font-size="8.3" transform="translate(392.79 203.25) scale(1.0000 1)" x="-0.42" y="0">250</text>
<text class="xt" font-size="8.4" transform="translate(406 278.2) scale(0.9600 1)" x="-0.64" y="0">10</text>
<text class="xt" font-size="5" transform="translate(414.74 275) scale(1.0000 1)" x="-0.2" y="0">0</text>
<text class="xt" font-size="8.4" transform="translate(437.1 278.2) scale(0.9600 1)" x="-0.64" y="0">10</text>
<text class="xt" font-size="5" transform="translate(445.84 275) scale(1.0000 1)" x="-0.38" y="0">1</text>
<text class="xt" font-size="8.4" transform="translate(468.3 278.2) scale(0.9600 1)" x="-0.64" y="0">10</text>
<text class="xt" font-size="5" transform="translate(477.04 275) scale(1.0000 1)" x="-0.25" y="0">2</text>
<text class="xt" font-size="8.4" transform="translate(499.5 278.2) scale(0.9600 1)" x="-0.64" y="0">10</text>
<text class="xt" font-size="5" transform="translate(508.24 275) scale(1.0000 1)" x="-0.19" y="0">3</text>
<text class="lab" font-size="12.5" transform="translate(479 212.6) scale(1.0424 1)" x="-0.44" y="0">9.6%</text>
<path d="M132.8 360.1 L132.8 357 L132.98 356.27 L133.04 355.49 L133.41 355.05 L133.44 353.82 L133.85 353.45 L134.15 352.53 L134.38 352.19 L134.38 351.04 L134.82 350.73 L135.02 349.92 L135.14 349.15 L135.1 348.54 L135.34 347.55 L135.36 347.16 L135.47 345.98 L135.54 345.42 L135.78 344.56 L135.92 343.85 L135.97 343.32 L136.04 342.65 L136.02 342.04 L136.14 340.86 L136.32 340.56 L136.21 339.66 L136.49 338.94 L136.6 338.33 L136.6 337.77 L136.5 336.84 L136.73 336.32 L136.61 335.71 L136.78 334.78 L136.77 333.79 L137 333 L137.07 332.81 L137.16 331.59 L137.16 331.31 L137.16 330.38 L137.26 329.49 L137.45 328.8 L137.52 328.25 L137.41 327.63 L137.61 326.86 L137.5 325.8 L137.63 325.34 L137.78 324.35 L137.86 323.8 L137.89 322.93 L138.02 322.4 L138.22 321.73 L138.38 320.78 L138.61 320.21 L138.54 319.41 L138.65 318.59 L138.66 318.11 L139.04 317.04 L138.96 316.38 L138.92 315.55 L139.27 315.16 L139.26 314.24 L139.38 313.98 L139.26 312.84 L139.5 312.44 L139.48 311.35 L139.59 310.64 L139.83 310.3 L139.86 309.54 L140.02 308.91 L140.2 308.3 L140.21 307.23 L140.42 306.74 L140.57 305.96 L140.6 305.02 L140.7 304.1 L140.75 303.76 L140.73 302.87 L140.76 301.91 L140.76 301.06 L140.93 300.29 L140.96 300.02 L140.92 299.08 L141.04 298.25 L140.89 297.47 L141.09 296.59 L140.95 295.84 L141.35 295.23 L141.49 294.21 L141.85 295.27 L141.94 296 L142.16 296.51 L141.98 297.67 L142.05 298.04 L141.98 299.06 L142.21 299.74 L142.14 300.69 L142.2 301.46 L142.15 301.79 L142.24 302.55 L142.04 303.38 L142.16 304.2 L142.08 305.17 L142.27 305.81 L142.48 306.29 L142.73 307.31 L142.84 307.74 L142.92 309 L143.11 309.57 L143.32 310.33 L143.29 310.88 L143.24 311.71 L143.34 312.25 L143.43 312.78 L143.53 313.48 L143.76 314.63 L143.61 315.1 L143.68 315.71 L143.88 316.59 L144 317.19 L143.99 318 L144.26 318.56 L144.3 319.4 L144.18 320.2 L144.41 320.69 L144.28 321.82 L144.6 322.15 L144.68 323.32 L144.66 324.04 L144.79 324.78 L144.81 325.35 L144.68 326.16 L144.73 326.96 L144.89 327.38 L145.01 328.31 L145.07 328.78 L145.07 329.9 L145.16 330.6 L145.13 331.09 L145.07 331.75 L145.21 332.42 L145.24 333.04 L145.18 334.23 L145.32 334.73 L145.37 335.32 L145.61 335.95 L145.68 336.8 L145.92 337.8 L145.88 338.58 L145.98 338.89 L146.21 339.87 L146.33 340.19 L146.32 341.2 L146.4 341.65 L146.67 342.33 L146.71 343.42 L146.85 343.92 L146.87 344.72 L146.91 345.59 L147.03 346.36 L147.07 347.17 L147.22 347.51 L147.46 348.42 L147.43 349.31 L147.49 350.3 L147.67 350.57 L147.89 351.58 L147.89 352.32 L148.06 353.35 L148.35 353.8 L148.51 354.85 L148.74 355.79 L148.92 356.4 L149.23 356.77 L150.03 357.11 L150.73 357.24 L151.29 357.88 L152.09 357.67 L152.86 357.78 L153.32 357.65 L154.07 358.21 L154.81 357.99 L155.52 357.84 L156.47 357.86 L157.09 358.35 L157.87 358.2 L158.63 359 L159.34 358.18 L159.93 359 L160.68 359 L161.27 358.31 L162.04 358.39 L162.97 359 L163.47 358.18 L164.21 358.34 L165 359 L165.6 358.28 L166.33 358.17 L167.12 358.24 L167.8 359 L168.5 359 L169.13 359 L169.89 359 L170.67 358.36 L171.49 359 L172.06 358.35 L172.86 359 L173.64 358.36 L174.08 359 L174.98 359 L175.68 359 L176.23 359 L176.95 359 L177.89 359 L178.59 359 L179.19 359 L179.86 359 L180.65 359 L181.2 359 L182.07 359 L182.63 359 L183.47 359 L184.09 359 L184.86 359 L185.73 359 L186.33 359 L187 359 L191 360.1 Z" fill="#d0d0d0" stroke="none"/>
<path d="M132.8 360.1 L132.8 357 L132.98 356.27 L133.04 355.49 L133.41 355.05 L133.44 353.82 L133.85 353.45 L134.15 352.53 L134.38 352.19 L134.38 351.04 L134.82 350.73 L135.02 349.92 L135.14 349.15 L135.1 348.54 L135.34 347.55 L135.36 347.16 L135.47 345.98 L135.54 345.42 L135.78 344.56 L135.92 343.85 L135.97 343.32 L136.04 342.65 L136.02 342.04 L136.14 340.86 L136.32 340.56 L136.21 339.66 L136.49 338.94 L136.6 338.33 L136.6 337.77 L136.5 336.84 L136.73 336.32 L136.61 335.71 L136.78 334.78 L136.77 333.79 L137 333 L137.07 332.81 L137.16 331.59 L137.16 331.31 L137.16 330.38 L137.26 329.49 L137.45 328.8 L137.52 328.25 L137.41 327.63 L137.61 326.86 L137.5 325.8 L137.63 325.34 L137.78 324.35 L137.86 323.8 L137.89 322.93 L138.02 322.4 L138.22 321.73 L138.38 320.78 L138.61 320.21 L138.54 319.41 L138.65 318.59 L138.66 318.11 L139.04 317.04 L138.96 316.38 L138.92 315.55 L139.27 315.16 L139.26 314.24 L139.38 313.98 L139.26 312.84 L139.5 312.44 L139.48 311.35 L139.59 310.64 L139.83 310.3 L139.86 309.54 L140.02 308.91 L140.2 308.3 L140.21 307.23 L140.42 306.74 L140.57 305.96 L140.6 305.02 L140.7 304.1 L140.75 303.76 L140.73 302.87 L140.76 301.91 L140.76 301.06 L140.93 300.29 L140.96 300.02 L140.92 299.08 L141.04 298.25 L140.89 297.47 L141.09 296.59 L140.95 295.84 L141.35 295.23 L141.49 294.21 L141.85 295.27 L141.94 296 L142.16 296.51 L141.98 297.67 L142.05 298.04 L141.98 299.06 L142.21 299.74 L142.14 300.69 L142.2 301.46 L142.15 301.79 L142.24 302.55 L142.04 303.38 L142.16 304.2 L142.08 305.17 L142.27 305.81 L142.48 306.29 L142.73 307.31 L142.84 307.74 L142.92 309 L143.11 309.57 L143.32 310.33 L143.29 310.88 L143.24 311.71 L143.34 312.25 L143.43 312.78 L143.53 313.48 L143.76 314.63 L143.61 315.1 L143.68 315.71 L143.88 316.59 L144 317.19 L143.99 318 L144.26 318.56 L144.3 319.4 L144.18 320.2 L144.41 320.69 L144.28 321.82 L144.6 322.15 L144.68 323.32 L144.66 324.04 L144.79 324.78 L144.81 325.35 L144.68 326.16 L144.73 326.96 L144.89 327.38 L145.01 328.31 L145.07 328.78 L145.07 329.9 L145.16 330.6 L145.13 331.09 L145.07 331.75 L145.21 332.42 L145.24 333.04 L145.18 334.23 L145.32 334.73 L145.37 335.32 L145.61 335.95 L145.68 336.8 L145.92 337.8 L145.88 338.58 L145.98 338.89 L146.21 339.87 L146.33 340.19 L146.32 341.2 L146.4 341.65 L146.67 342.33 L146.71 343.42 L146.85 343.92 L146.87 344.72 L146.91 345.59 L147.03 346.36 L147.07 347.17 L147.22 347.51 L147.46 348.42 L147.43 349.31 L147.49 350.3 L147.67 350.57 L147.89 351.58 L147.89 352.32 L148.06 353.35 L148.35 353.8 L148.51 354.85 L148.74 355.79 L148.92 356.4 L149.23 356.77 L150.03 357.11 L150.73 357.24 L151.29 357.88 L152.09 357.67 L152.86 357.78 L153.32 357.65 L154.07 358.21 L154.81 357.99 L155.52 357.84 L156.47 357.86 L157.09 358.35 L157.87 358.2 L158.63 359 L159.34 358.18 L159.93 359 L160.68 359 L161.27 358.31 L162.04 358.39 L162.97 359 L163.47 358.18 L164.21 358.34 L165 359 L165.6 358.28 L166.33 358.17 L167.12 358.24 L167.8 359 L168.5 359 L169.13 359 L169.89 359 L170.67 358.36 L171.49 359 L172.06 358.35 L172.86 359 L173.64 358.36 L174.08 359 L174.98 359 L175.68 359 L176.23 359 L176.95 359 L177.89 359 L178.59 359 L179.19 359 L179.86 359 L180.65 359 L181.2 359 L182.07 359 L182.63 359 L183.47 359 L184.09 359 L184.86 359 L185.73 359 L186.33 359 L187 359" fill="none" stroke="#000" stroke-width="1.7" stroke-linejoin="round"/>
<rect x="132.3" y="289.4" width="109.9" height="70.7" fill="none" stroke="#2a2a2a" stroke-width="1.1"/>
<line x1="148.4" y1="289.4" x2="148.4" y2="360.1" stroke="#2a2a2a" stroke-width="1.1"/>
<line x1="130.5" y1="360.1" x2="132.3" y2="360.1" stroke="#2a2a2a" stroke-width="1"/>
<text class="yt" font-size="8.3" transform="translate(126.03 363.05) scale(1.0000 1)" x="-0.32" y="0">0</text>
<line x1="130.5" y1="345.96" x2="132.3" y2="345.96" stroke="#2a2a2a" stroke-width="1"/>
<text class="yt" font-size="8.3" transform="translate(121.43 348.91) scale(1.0000 1)" x="-0.33" y="0">50</text>
<line x1="130.5" y1="331.82" x2="132.3" y2="331.82" stroke="#2a2a2a" stroke-width="1"/>
<text class="yt" font-size="8.3" transform="translate(117.11 334.77) scale(1.0000 1)" x="-0.63" y="0">100</text>
<line x1="130.5" y1="317.68" x2="132.3" y2="317.68" stroke="#2a2a2a" stroke-width="1"/>
<text class="yt" font-size="8.3" transform="translate(117.11 320.63) scale(1.0000 1)" x="-0.63" y="0">150</text>
<line x1="130.5" y1="303.54" x2="132.3" y2="303.54" stroke="#2a2a2a" stroke-width="1"/>
<text class="yt" font-size="8.3" transform="translate(116.89 306.49) scale(1.0000 1)" x="-0.42" y="0">200</text>
<line x1="130.5" y1="289.4" x2="132.3" y2="289.4" stroke="#2a2a2a" stroke-width="1"/>
<text class="yt" font-size="8.3" transform="translate(116.89 292.35) scale(1.0000 1)" x="-0.42" y="0">250</text>
<text class="xt" font-size="8.4" transform="translate(130.1 368.6) scale(0.9600 1)" x="-0.64" y="0">10</text>
<text class="xt" font-size="5" transform="translate(138.84 365.4) scale(1.0000 1)" x="-0.2" y="0">0</text>
<text class="xt" font-size="8.4" transform="translate(161.2 368.6) scale(0.9600 1)" x="-0.64" y="0">10</text>
<text class="xt" font-size="5" transform="translate(169.94 365.4) scale(1.0000 1)" x="-0.38" y="0">1</text>
<text class="xt" font-size="8.4" transform="translate(192.4 368.6) scale(0.9600 1)" x="-0.64" y="0">10</text>
<text class="xt" font-size="5" transform="translate(201.14 365.4) scale(1.0000 1)" x="-0.25" y="0">2</text>
<text class="xt" font-size="8.4" transform="translate(223.6 368.6) scale(0.9600 1)" x="-0.64" y="0">10</text>
<text class="xt" font-size="5" transform="translate(232.34 365.4) scale(1.0000 1)" x="-0.19" y="0">3</text>
<text class="lab" font-size="12.5" transform="translate(203.8 301.5) scale(1.0194 1)" x="-0.4" y="0">8.3%</text>
<path d="M274.9 360 L275.2 357 L275.27 356.49 L275.73 355.4 L276.08 354.33 L275.78 353.98 L275.87 353.3 L276.48 351.72 L276.08 352.17 L276.23 350.37 L277.12 349.81 L276.75 349.65 L276.75 348.96 L277.63 347.35 L277.6 347.89 L277.75 346.75 L277.75 346.6 L278.13 345.65 L278.06 343.67 L278.02 344.39 L278.61 343.19 L278.88 343.01 L278.72 342.27 L278.55 340.89 L278.95 340.3 L278.89 339.51 L279.27 338.24 L279.5 338.25 L279.7 336.52 L279.84 337.26 L279.96 335.85 L280.34 334.57 L280.17 334.97 L280.64 333.96 L280.95 333.87 L280.94 332.19 L281.28 331.76 L281.15 330.69 L281.38 330.94 L281.85 329.07 L281.73 327.93 L281.76 327 L282.34 327.23 L281.87 325.39 L282.36 325.42 L282.4 323.97 L282.1 324.59 L281.96 323.16 L282.04 321.63 L282.15 321.53 L282.62 320.25 L282.7 320.34 L283.12 319.55 L282.72 318.59 L283.58 317.7 L283.49 316.92 L283.21 316.51 L283.45 316.56 L283.73 315.7 L284.08 314.1 L283.79 313.09 L283.68 313.39 L283.7 311.79 L284.07 311.78 L284.06 309.97 L284.1 310.16 L284.62 308.7 L284.42 307.93 L284.43 306.85 L284.81 308.35 L284.33 308.85 L284.43 310.32 L284.49 309.66 L284.53 310.46 L284.84 311.54 L285.07 312.88 L284.67 312.83 L284.77 314.58 L285.18 314.54 L284.92 315.99 L285.67 317.08 L285.58 317.99 L285.61 318.55 L286.05 318.28 L286.29 319.93 L285.7 320.4 L286.54 321.37 L286.54 321.8 L286.35 322.52 L286.86 323.18 L286.89 323.68 L287.32 324.49 L287.12 324.73 L287.07 325.46 L287.1 326.2 L287.38 326.73 L287.83 328.01 L288.05 328.88 L288.24 330.21 L288.37 330.39 L288.57 331.52 L288.07 331.03 L288.21 332.51 L288.5 333.8 L288.73 334.25 L289.34 334.69 L288.78 334.94 L289.35 336.33 L289.18 336.78 L289.38 337.97 L289.98 337.31 L290.07 339.48 L290.13 339.62 L290.06 340.55 L290.38 340.61 L290.16 341.57 L290.47 342.51 L290.9 343.16 L291.13 344.03 L291.2 344.01 L291.5 345.76 L291.75 345.45 L292.15 346.74 L292.14 347.97 L292.56 348.43 L292.93 349.06 L294.37 349.15 L294.4 350 L295.78 349.72 L295.77 350.33 L296.91 350.58 L297.31 350.22 L297.81 351.15 L298.72 351.49 L299.28 351.95 L300.29 351.98 L300.32 351.96 L301.06 353.22 L301.38 352.72 L302.46 353.14 L302.68 354.47 L303.57 354.69 L304.08 354.35 L304.77 354.33 L305.74 355.61 L306.26 355.68 L307.01 355.17 L307.79 356.34 L309.09 356.1 L309.1 355.97 L309.83 356.2 L310.92 356.93 L311.43 357.04 L312.53 357.02 L313.26 356.78 L313.71 358.12 L314.94 357.89 L315 357.35 L316.48 359 L316.88 357.45 L317.31 359 L318.52 357.87 L319.01 359 L319.65 359 L320.47 359 L321.73 359 L322.36 359 L323.23 359 L323.25 359 L324.31 359 L325.24 359 L325.42 358.21 L326.45 357.93 L327.05 358.29 L327.79 359 L328.83 358.32 L329.03 359 L329.94 359 L330.51 359 L331.33 359 L331.74 359 L332.84 359 L333.45 359 L334.56 359 L334.51 359 L335.92 359 L336.45 359 L337 359 L341 360 Z" fill="#d0d0d0" stroke="none"/>
<path d="M274.9 360 L275.2 357 L275.27 356.49 L275.73 355.4 L276.08 354.33 L275.78 353.98 L275.87 353.3 L276.48 351.72 L276.08 352.17 L276.23 350.37 L277.12 349.81 L276.75 349.65 L276.75 348.96 L277.63 347.35 L277.6 347.89 L277.75 346.75 L277.75 346.6 L278.13 345.65 L278.06 343.67 L278.02 344.39 L278.61 343.19 L278.88 343.01 L278.72 342.27 L278.55 340.89 L278.95 340.3 L278.89 339.51 L279.27 338.24 L279.5 338.25 L279.7 336.52 L279.84 337.26 L279.96 335.85 L280.34 334.57 L280.17 334.97 L280.64 333.96 L280.95 333.87 L280.94 332.19 L281.28 331.76 L281.15 330.69 L281.38 330.94 L281.85 329.07 L281.73 327.93 L281.76 327 L282.34 327.23 L281.87 325.39 L282.36 325.42 L282.4 323.97 L282.1 324.59 L281.96 323.16 L282.04 321.63 L282.15 321.53 L282.62 320.25 L282.7 320.34 L283.12 319.55 L282.72 318.59 L283.58 317.7 L283.49 316.92 L283.21 316.51 L283.45 316.56 L283.73 315.7 L284.08 314.1 L283.79 313.09 L283.68 313.39 L283.7 311.79 L284.07 311.78 L284.06 309.97 L284.1 310.16 L284.62 308.7 L284.42 307.93 L284.43 306.85 L284.81 308.35 L284.33 308.85 L284.43 310.32 L284.49 309.66 L284.53 310.46 L284.84 311.54 L285.07 312.88 L284.67 312.83 L284.77 314.58 L285.18 314.54 L284.92 315.99 L285.67 317.08 L285.58 317.99 L285.61 318.55 L286.05 318.28 L286.29 319.93 L285.7 320.4 L286.54 321.37 L286.54 321.8 L286.35 322.52 L286.86 323.18 L286.89 323.68 L287.32 324.49 L287.12 324.73 L287.07 325.46 L287.1 326.2 L287.38 326.73 L287.83 328.01 L288.05 328.88 L288.24 330.21 L288.37 330.39 L288.57 331.52 L288.07 331.03 L288.21 332.51 L288.5 333.8 L288.73 334.25 L289.34 334.69 L288.78 334.94 L289.35 336.33 L289.18 336.78 L289.38 337.97 L289.98 337.31 L290.07 339.48 L290.13 339.62 L290.06 340.55 L290.38 340.61 L290.16 341.57 L290.47 342.51 L290.9 343.16 L291.13 344.03 L291.2 344.01 L291.5 345.76 L291.75 345.45 L292.15 346.74 L292.14 347.97 L292.56 348.43 L292.93 349.06 L294.37 349.15 L294.4 350 L295.78 349.72 L295.77 350.33 L296.91 350.58 L297.31 350.22 L297.81 351.15 L298.72 351.49 L299.28 351.95 L300.29 351.98 L300.32 351.96 L301.06 353.22 L301.38 352.72 L302.46 353.14 L302.68 354.47 L303.57 354.69 L304.08 354.35 L304.77 354.33 L305.74 355.61 L306.26 355.68 L307.01 355.17 L307.79 356.34 L309.09 356.1 L309.1 355.97 L309.83 356.2 L310.92 356.93 L311.43 357.04 L312.53 357.02 L313.26 356.78 L313.71 358.12 L314.94 357.89 L315 357.35 L316.48 359 L316.88 357.45 L317.31 359 L318.52 357.87 L319.01 359 L319.65 359 L320.47 359 L321.73 359 L322.36 359 L323.23 359 L323.25 359 L324.31 359 L325.24 359 L325.42 358.21 L326.45 357.93 L327.05 358.29 L327.79 359 L328.83 358.32 L329.03 359 L329.94 359 L330.51 359 L331.33 359 L331.74 359 L332.84 359 L333.45 359 L334.56 359 L334.51 359 L335.92 359 L336.45 359 L337 359" fill="none" stroke="#000" stroke-width="1.7" stroke-linejoin="round"/>
<rect x="274.6" y="289.2" width="110.2" height="70.9" fill="none" stroke="#2a2a2a" stroke-width="1.1"/>
<line x1="290.5" y1="289.2" x2="290.5" y2="360.1" stroke="#2a2a2a" stroke-width="1.1"/>
<line x1="272.8" y1="360.1" x2="274.6" y2="360.1" stroke="#2a2a2a" stroke-width="1"/>
<text class="yt" font-size="8.3" transform="translate(268.33 363.05) scale(1.0000 1)" x="-0.32" y="0">0</text>
<line x1="272.8" y1="345.92" x2="274.6" y2="345.92" stroke="#2a2a2a" stroke-width="1"/>
<text class="yt" font-size="8.3" transform="translate(263.73 348.87) scale(1.0000 1)" x="-0.33" y="0">50</text>
<line x1="272.8" y1="331.74" x2="274.6" y2="331.74" stroke="#2a2a2a" stroke-width="1"/>
<text class="yt" font-size="8.3" transform="translate(259.41 334.69) scale(1.0000 1)" x="-0.63" y="0">100</text>
<line x1="272.8" y1="317.56" x2="274.6" y2="317.56" stroke="#2a2a2a" stroke-width="1"/>
<text class="yt" font-size="8.3" transform="translate(259.41 320.51) scale(1.0000 1)" x="-0.63" y="0">150</text>
<line x1="272.8" y1="303.38" x2="274.6" y2="303.38" stroke="#2a2a2a" stroke-width="1"/>
<text class="yt" font-size="8.3" transform="translate(259.19 306.33) scale(1.0000 1)" x="-0.42" y="0">200</text>
<line x1="272.8" y1="289.2" x2="274.6" y2="289.2" stroke="#2a2a2a" stroke-width="1"/>
<text class="yt" font-size="8.3" transform="translate(259.19 292.15) scale(1.0000 1)" x="-0.42" y="0">250</text>
<text class="xt" font-size="8.4" transform="translate(272.4 368.6) scale(0.9600 1)" x="-0.64" y="0">10</text>
<text class="xt" font-size="5" transform="translate(281.14 365.4) scale(1.0000 1)" x="-0.2" y="0">0</text>
<text class="xt" font-size="8.4" transform="translate(303.5 368.6) scale(0.9600 1)" x="-0.64" y="0">10</text>
<text class="xt" font-size="5" transform="translate(312.24 365.4) scale(1.0000 1)" x="-0.38" y="0">1</text>
<text class="xt" font-size="8.4" transform="translate(334.7 368.6) scale(0.9600 1)" x="-0.64" y="0">10</text>
<text class="xt" font-size="5" transform="translate(343.44 365.4) scale(1.0000 1)" x="-0.25" y="0">2</text>
<text class="xt" font-size="8.4" transform="translate(365.9 368.6) scale(0.9600 1)" x="-0.64" y="0">10</text>
<text class="xt" font-size="5" transform="translate(374.64 365.4) scale(1.0000 1)" x="-0.19" y="0">3</text>
<text class="lab" font-size="12.5" transform="translate(342.7 301.5) scale(1.0151 1)" x="-0.44" y="0">28.9%</text>
<path d="M409.5 358.4 L409.5 357.2 L409.64 357.2 L410.01 356.13 L410.31 354.92 L410.87 355.12 L411.08 353.98 L410.75 354.39 L411.18 353.7 L412.08 352.84 L412.06 352.58 L412.71 351.36 L412.47 349.56 L412.42 350.01 L413.04 348.3 L413.71 348.75 L414.01 347.49 L413.51 346.84 L414.2 345.59 L414.66 345.37 L414.98 344.25 L415.19 343.41 L415.07 342.78 L415.72 343.52 L415.34 342.02 L415.76 342.02 L416.47 341.63 L416.47 340.61 L416.8 339.24 L416.1 338.41 L416.83 338.17 L416.83 336.13 L417.26 336.66 L417.09 335.8 L417.63 335.33 L417.47 334.27 L417.81 333.54 L418.18 332.92 L418.81 332.47 L419.08 332.01 L419.23 331.02 L419.17 329.05 L419.29 329.54 L419.67 328.11 L420.17 329.92 L420.86 329.12 L420.85 331.75 L421.32 331.16 L422.02 333.22 L422.35 333.26 L422.9 333.24 L423.08 334.92 L423.7 335.12 L423.13 335.36 L424.16 337.72 L424.2 338.31 L424.82 338.94 L425.01 339.16 L425.78 339.29 L426.59 340.84 L426.71 340.1 L427.98 341.87 L428.24 342.46 L429.27 342.53 L430.24 343.09 L430.87 341.26 L431.56 342.28 L432.21 341.75 L433.43 343.04 L434.36 343.82 L434.46 343.93 L434.57 344.01 L435.08 345.94 L435.59 345.86 L436.44 346.77 L436.5 346.83 L436.42 347.1 L437.32 347.07 L437.81 346.93 L438.4 345.54 L438.05 346.26 L438.88 345.82 L440.18 346.8 L440.23 346.2 L440.73 347 L440.95 346.82 L441.4 348.37 L442.13 349.19 L442.94 348.55 L443.29 349.79 L443.4 350.2 L444.05 349.61 L445.06 349.96 L446.12 349.87 L446.55 349.7 L446.84 349.81 L448.24 350.44 L448.17 350.98 L448.68 351.31 L449.49 353.4 L450.47 351.93 L450.57 353.47 L451.05 353.23 L452.12 353.5 L453.1 353.9 L453.74 354.56 L454.35 354.34 L455.28 353.97 L455.67 354.7 L456.63 354.53 L457.78 354.69 L458.04 355.18 L459.45 355.15 L459.97 354.92 L460.21 355.84 L461.33 354.66 L462.23 355.24 L463.06 354.71 L463.22 355.31 L464.03 354.66 L465.04 354.94 L465.84 357.2 L465.89 356.02 L466.38 357.2 L467.4 356.06 L468.09 357.2 L469.47 356.24 L469.59 357.2 L470.87 356.58 L471.02 357.2 L471.85 357.2 L473.35 357.2 L474.07 357.2 L475 357.2 L475.4 357.2 L476 357.2 L480 358.4 Z" fill="#000" stroke="none"/>
<path d="M410.5 358 L411 355.56 L411.22 354.61 L411.63 353.89 L411.87 353.46 L411.97 352.9 L412.24 352.18 L412.54 351.24 L412.97 351.16 L413.1 349.98 L413.55 349.86 L413.78 348.72 L414.19 347.74 L414.39 347.23 L414.36 346.39 L414.67 346.25 L414.87 345.37 L415.26 344.5 L415.42 343.56 L415.42 342.98 L415.87 342.47 L415.93 341.9 L416.18 340.98 L416.52 340.61 L416.5 339.81 L416.81 339.36 L417.09 338.2 L417.41 337.36 L417.41 337.18 L417.53 336.27 L417.7 335.72 L418.22 334.94 L418.48 334.04 L418.63 333.57 L418.81 332.76 L419.14 332.46 L419.74 331.98 L420.32 331.76 L420.71 332.73 L420.93 332.91 L420.9 333.95 L420.91 334.53 L421.12 334.99 L421.22 336.25 L421.4 336.58 L421.66 337.82 L421.68 338.22 L422.02 339.31 L422.88 339.79 L423.41 339.93 L423.84 341.01 L424.48 341.12 L424.57 341.89 L424.99 342.79 L425.54 343.31 L426.13 343.74 L427.11 344.15 L428.18 344.55 L428.81 344.69 L429.67 344.44 L430.56 345.22 L431.35 345.44 L431.96 345.32 L432.51 345.92 L433.16 345.89 L433.88 346.38 L434.6 346.71 L435.13 347.2 L435.84 347.79 L436.38 348.63 L437.19 348.48 L437.62 349.06 L438.23 349.31 L439 350.44 L439.41 350.46 L439.83 350.58 L440.74 350.89 L441.73 350.99 L442.21 351.8 L443.21 351.34 L444.02 351.42 L444.76 352.48 L445.65 352.56 L446.15 352.59 L446.87 353.22 L447.76 353.65 L448.43 353.63 L449.37 354.66 L450 354.7 L451 358 Z" fill="#d0d0d0" stroke="none"/>
<path d="M409.5 358.4 L409.5 357.2 L409.64 357.2 L410.01 356.13 L410.31 354.92 L410.87 355.12 L411.08 353.98 L410.75 354.39 L411.18 353.7 L412.08 352.84 L412.06 352.58 L412.71 351.36 L412.47 349.56 L412.42 350.01 L413.04 348.3 L413.71 348.75 L414.01 347.49 L413.51 346.84 L414.2 345.59 L414.66 345.37 L414.98 344.25 L415.19 343.41 L415.07 342.78 L415.72 343.52 L415.34 342.02 L415.76 342.02 L416.47 341.63 L416.47 340.61 L416.8 339.24 L416.1 338.41 L416.83 338.17 L416.83 336.13 L417.26 336.66 L417.09 335.8 L417.63 335.33 L417.47 334.27 L417.81 333.54 L418.18 332.92 L418.81 332.47 L419.08 332.01 L419.23 331.02 L419.17 329.05 L419.29 329.54 L419.67 328.11 L420.17 329.92 L420.86 329.12 L420.85 331.75 L421.32 331.16 L422.02 333.22 L422.35 333.26 L422.9 333.24 L423.08 334.92 L423.7 335.12 L423.13 335.36 L424.16 337.72 L424.2 338.31 L424.82 338.94 L425.01 339.16 L425.78 339.29 L426.59 340.84 L426.71 340.1 L427.98 341.87 L428.24 342.46 L429.27 342.53 L430.24 343.09 L430.87 341.26 L431.56 342.28 L432.21 341.75 L433.43 343.04 L434.36 343.82 L434.46 343.93 L434.57 344.01 L435.08 345.94 L435.59 345.86 L436.44 346.77 L436.5 346.83 L436.42 347.1 L437.32 347.07 L437.81 346.93 L438.4 345.54 L438.05 346.26 L438.88 345.82 L440.18 346.8 L440.23 346.2 L440.73 347 L440.95 346.82 L441.4 348.37 L442.13 349.19 L442.94 348.55 L443.29 349.79 L443.4 350.2 L444.05 349.61 L445.06 349.96 L446.12 349.87 L446.55 349.7 L446.84 349.81 L448.24 350.44 L448.17 350.98 L448.68 351.31 L449.49 353.4 L450.47 351.93 L450.57 353.47 L451.05 353.23 L452.12 353.5 L453.1 353.9 L453.74 354.56 L454.35 354.34 L455.28 353.97 L455.67 354.7 L456.63 354.53 L457.78 354.69 L458.04 355.18 L459.45 355.15 L459.97 354.92 L460.21 355.84 L461.33 354.66 L462.23 355.24 L463.06 354.71 L463.22 355.31 L464.03 354.66 L465.04 354.94 L465.84 357.2 L465.89 356.02 L466.38 357.2 L467.4 356.06 L468.09 357.2 L469.47 356.24 L469.59 357.2 L470.87 356.58 L471.02 357.2 L471.85 357.2 L473.35 357.2 L474.07 357.2 L475 357.2 L475.4 357.2 L476 357.2" fill="none" stroke="#000" stroke-width="1.7" stroke-linejoin="round"/>
<rect x="408.8" y="287.8" width="109.5" height="70.5" fill="none" stroke="#2a2a2a" stroke-width="1.1"/>
<line x1="424.5" y1="287.8" x2="424.5" y2="358.3" stroke="#2a2a2a" stroke-width="1.1"/>
<line x1="407" y1="358.3" x2="408.8" y2="358.3" stroke="#2a2a2a" stroke-width="1"/>
<text class="yt" font-size="8.3" transform="translate(402.53 361.25) scale(1.0000 1)" x="-0.32" y="0">0</text>
<line x1="407" y1="344.2" x2="408.8" y2="344.2" stroke="#2a2a2a" stroke-width="1"/>
<text class="yt" font-size="8.3" transform="translate(397.93 347.15) scale(1.0000 1)" x="-0.33" y="0">50</text>
<line x1="407" y1="330.1" x2="408.8" y2="330.1" stroke="#2a2a2a" stroke-width="1"/>
<text class="yt" font-size="8.3" transform="translate(393.61 333.05) scale(1.0000 1)" x="-0.63" y="0">100</text>
<line x1="407" y1="316" x2="408.8" y2="316" stroke="#2a2a2a" stroke-width="1"/>
<text class="yt" font-size="8.3" transform="translate(393.61 318.95) scale(1.0000 1)" x="-0.63" y="0">150</text>
<line x1="407" y1="301.9" x2="408.8" y2="301.9" stroke="#2a2a2a" stroke-width="1"/>
<text class="yt" font-size="8.3" transform="translate(393.39 304.85) scale(1.0000 1)" x="-0.42" y="0">200</text>
<line x1="407" y1="287.8" x2="408.8" y2="287.8" stroke="#2a2a2a" stroke-width="1"/>
<text class="yt" font-size="8.3" transform="translate(393.39 290.75) scale(1.0000 1)" x="-0.42" y="0">250</text>
<text class="xt" font-size="8.4" transform="translate(406.6 366.8) scale(0.9600 1)" x="-0.64" y="0">10</text>
<text class="xt" font-size="5" transform="translate(415.34 363.6) scale(1.0000 1)" x="-0.2" y="0">0</text>
<text class="xt" font-size="8.4" transform="translate(437.7 366.8) scale(0.9600 1)" x="-0.64" y="0">10</text>
<text class="xt" font-size="5" transform="translate(446.44 363.6) scale(1.0000 1)" x="-0.38" y="0">1</text>
<text class="xt" font-size="8.4" transform="translate(468.9 366.8) scale(0.9600 1)" x="-0.64" y="0">10</text>
<text class="xt" font-size="5" transform="translate(477.64 363.6) scale(1.0000 1)" x="-0.25" y="0">2</text>
<text class="xt" font-size="8.4" transform="translate(500.1 366.8) scale(0.9600 1)" x="-0.64" y="0">10</text>
<text class="xt" font-size="5" transform="translate(508.84 363.6) scale(1.0000 1)" x="-0.19" y="0">3</text>
<text class="lab" font-size="12.5" transform="translate(476.7 300.2) scale(0.9964 1)" x="-0.39" y="0">54.5%</text>
<text class="lab" font-size="12.5" transform="translate(160.6 10.6) scale(1.0317 1)" x="-0.51" y="0">Control</text>
<text class="lab" font-size="12.5" transform="translate(291.2 10.6) scale(1.0141 1)" x="-0.31" y="0"><tspan>All-</tspan><tspan font-style="italic">trans</tspan><tspan> RA</tspan></text>
<text class="lab" font-size="12.5" transform="translate(438.75 10) scale(1.0183 1)" x="-0.44" y="0"><tspan>9-</tspan><tspan font-style="italic">cis</tspan><tspan> RA</tspan></text>
<text class="lab" font-size="12.5" transform="translate(71.25 58.9) scale(1.0082 1)" x="-0.84" y="0">HL-60</text>
<text class="lab" font-size="12.5" transform="translate(63.5 148.4) scale(1.0012 1)" x="-0.84" y="0">HL-60R</text>
<text class="lab" font-size="12.5" transform="translate(36.7 240.2) scale(1.0172 1)" x="-0.84" y="0">HL-60R/neo</text>
<text class="lab" font-size="12.5" transform="translate(24 328.5) scale(1.0259 1)" x="-0.84" y="0">HL-60R/196Rz</text>
<text class="lab" font-size="12.5" transform="translate(308.2 382.7) scale(1.0271 1)" x="-0.51" y="0">CD11b</text>
<text class="lab" font-size="12.5" transform="translate(10.6 223.3) rotate(-90) scale(1.0189 1)" x="-0.51" y="0">Cell Number</text>
</svg>
</body></html>
